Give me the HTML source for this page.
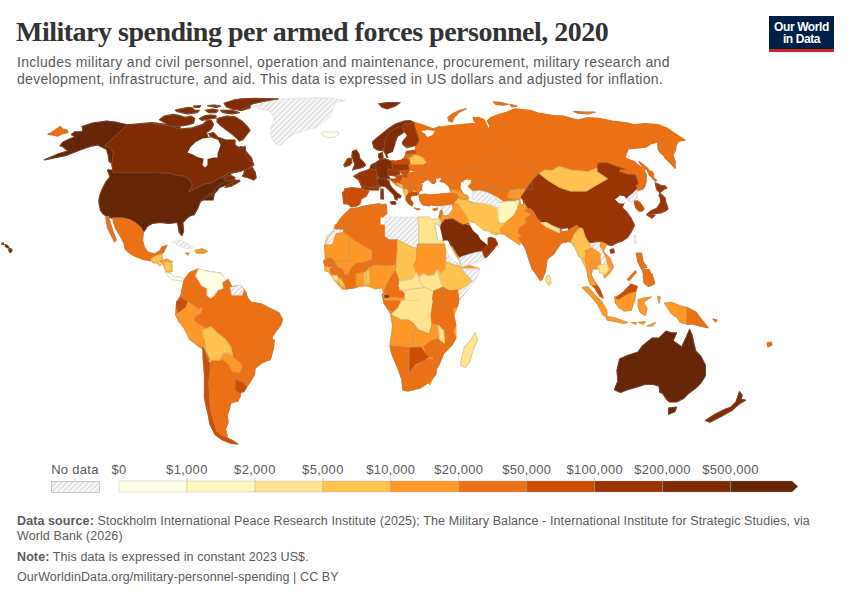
<!DOCTYPE html>
<html><head><meta charset="utf-8">
<style>
html,body{margin:0;padding:0;background:#fff;width:850px;height:600px;overflow:hidden}
body{position:relative;font-family:"Liberation Sans",sans-serif}
.t{position:absolute;white-space:nowrap}
#title{left:16px;top:16.5px;font-family:"Liberation Serif",serif;font-weight:bold;font-size:28px;line-height:30px;color:#333;letter-spacing:-0.5px}
#sub{left:17px;top:53.5px;font-size:14px;line-height:17px;color:#5b5b5b;letter-spacing:0.31px}
#logo{position:absolute;left:769px;top:16px;width:65px;height:36px;background:#002147}
#logo .bar{position:absolute;left:0;bottom:0;width:65px;height:3px;background:#ce261e}
#logo .txt{position:absolute;left:0;top:4.5px;width:65px;text-align:center;color:#fff;font-size:12px;line-height:12.3px;font-weight:bold;letter-spacing:-0.4px}
#foot{left:17px;top:514.2px;font-size:12.5px;line-height:15.3px;color:#5b5b5b;letter-spacing:0.1px}
#foot b{font-weight:bold}
svg{position:absolute;left:0;top:0}
.bd{fill:none;stroke:#8f8f8f;stroke-opacity:0.7;stroke-width:0.45;stroke-linejoin:round}
.bdn{fill:none;stroke:#d0d0d0;stroke-width:0.5;stroke-linejoin:round}
</style></head><body>
<div class="t" id="title">Military spending per armed forces personnel, 2020</div>
<div class="t" id="sub">Includes military and civil personnel, operation and maintenance, procurement, military research and<br>development, infrastructure, and aid. This data is expressed in US dollars and adjusted for inflation.</div>
<div id="logo"><div class="txt">Our World<br>in Data</div><div class="bar"></div></div>
<svg width="850" height="600" viewBox="0 0 850 600">
<defs><pattern id="hatch" width="3.8" height="3.8" patternUnits="userSpaceOnUse" patternTransform="rotate(45)"><rect width="3.8" height="3.8" fill="#fafafa"/><line x1="0.9" y1="0" x2="0.9" y2="3.8" stroke="#dedede" stroke-width="1.6"/></pattern></defs>
<g><path d="M47.9,134.4 54.0,130.9 60.1,126.5 62.8,129.1 67.1,130.0 68.0,132.6 62.8,133.5 57.5,136.1 54.0,135.2Z" fill="#ec7014" stroke="#ec7014" stroke-width="1.2" stroke-linejoin="round"/>
<path d="M47.9,134.4 54.0,130.9 60.1,126.5 62.8,129.1 67.1,130.0 68.0,132.6 62.8,133.5 57.5,136.1 54.0,135.2 47.9,134.4" class="bd"/>
<path d="M82.0,126.5 92.5,123.0 106.5,121.2 115.2,122.1 127.5,124.8 104.8,145.8 110.0,147.5 113.5,152.8 112.6,158.0 111.8,163.2 109.1,161.5 108.2,154.5 106.5,149.2 97.8,144.9 92.5,145.8 87.2,147.5 82.0,149.2 75.0,151.9 66.2,155.4 44.4,159.8 59.2,153.6 68.0,151.0 62.8,146.6 60.1,145.8 62.8,142.2 69.8,138.8 75.0,137.0 71.5,134.4 75.0,131.8 82.0,131.8 82.9,129.1Z" fill="#662506" stroke="#662506" stroke-width="1.2" stroke-linejoin="round"/>
<path d="M82.0,126.5 92.5,123.0 106.5,121.2 115.2,122.1 127.5,124.8 104.8,145.8 110.0,147.5 113.5,152.8 112.6,158.0 111.8,163.2 109.1,161.5 108.2,154.5 106.5,149.2 97.8,144.9 92.5,145.8 87.2,147.5 82.0,149.2 75.0,151.9 66.2,155.4 44.4,159.8 59.2,153.6 68.0,151.0 62.8,146.6 60.1,145.8 62.8,142.2 69.8,138.8 75.0,137.0 71.5,134.4 75.0,131.8 82.0,131.8 82.9,129.1 82.0,126.5" class="bd"/>
<path d="M127.5,124.8 138.0,123.9 152.0,122.7 162.5,123.9 173.0,126.5 180.0,126.5 180.0,173.2 115.2,173.2 113.5,172.0 111.8,165.0 112.6,158.0 113.5,152.8 110.0,147.5 104.8,145.8Z" fill="#7f2c05" stroke="#7f2c05" stroke-width="1.2" stroke-linejoin="round"/>
<path d="M127.5,124.8 138.0,123.9 152.0,122.7 162.5,123.9 173.0,126.5 180.0,126.5M180.0,173.2 115.2,173.2 113.5,172.0 111.8,165.0 112.6,158.0 113.5,152.8 110.0,147.5 104.8,145.8 127.5,124.8" class="bd"/>
<path d="M115.2,173.2 180.0,173.2 180.0,200.0 99.5,200.0 103.0,191.2 108.2,184.2 113.5,177.2Z" fill="#662506" stroke="#662506" stroke-width="1.2" stroke-linejoin="round"/>
<path d="M115.2,173.2 180.0,173.2M99.5,200.0 103.0,191.2 108.2,184.2 113.5,177.2 115.2,173.2" class="bd"/>
<path d="M150.0,123.0 167.5,125.6 179.4,129.1 192.3,127.9 202.8,124.4 206.5,120.9 211.2,120.4 213.5,124.4 211.2,129.1 206.5,132.6 207.8,137.0 220.0,137.9 232.2,143.1 236.6,147.5 241.9,146.6 245.4,151.0 251.5,158.0 253.2,164.1 247.1,166.8 241.0,171.1 232.2,172.9 227.0,177.2 223.5,179.0 216.5,183.4 209.5,187.8 202.5,186.9 195.5,187.8 190.2,191.2 188.5,186.0 181.5,175.5 171.0,172.9 150.0,173.2Z" fill="#7f2c05" stroke="#7f2c05" stroke-width="1.2" stroke-linejoin="round"/>
<path d="M150.0,123.0 167.5,125.6 179.4,129.1 192.3,127.9 202.8,124.4 206.5,120.9 211.2,120.4 213.5,124.4 211.2,129.1 206.5,132.6 207.8,137.0 220.0,137.9 232.2,143.1 236.6,147.5 241.9,146.6 245.4,151.0 251.5,158.0 253.2,164.1 247.1,166.8 241.0,171.1 232.2,172.9 227.0,177.2 223.5,179.0 216.5,183.4 209.5,187.8 202.5,186.9 195.5,187.8 190.2,191.2 188.5,186.0 181.5,175.5 171.0,172.9 150.0,173.2" class="bd"/>
<path d="M244.5,170.2 249.8,166.8 255.0,172.0 254.1,179.0 248.0,177.2 243.6,176.4Z" fill="#7f2c05" stroke="#7f2c05" stroke-width="1.2" stroke-linejoin="round"/>
<path d="M244.5,170.2 249.8,166.8 255.0,172.0 254.1,179.0 248.0,177.2 243.6,176.4 244.5,170.2" class="bd"/>
<path d="M225.2,182.5 232.2,179.0 238.4,180.8 234.0,184.2 227.0,186.0Z" fill="#7f2c05" stroke="#7f2c05" stroke-width="1.2" stroke-linejoin="round"/>
<path d="M225.2,182.5 232.2,179.0 238.4,180.8 234.0,184.2 227.0,186.0 225.2,182.5" class="bd"/>
<path d="M159.4,119.7 164.1,116.2 173.5,114.4 179.4,115.6 185.3,117.4 191.2,116.2 194.7,118.5 193.5,123.2 187.6,125.0 179.4,126.2 170.0,126.2 167.6,124.4 161.8,120.9Z" fill="#7f2c05" stroke="#7f2c05" stroke-width="1.2" stroke-linejoin="round"/>
<path d="M159.4,119.7 164.1,116.2 173.5,114.4 179.4,115.6 185.3,117.4 191.2,116.2 194.7,118.5 193.5,123.2 187.6,125.0 179.4,126.2 170.0,126.2 167.6,124.4 161.8,120.9 159.4,119.7" class="bd"/>
<path d="M175.3,110.3 181.8,108.5 188.8,107.4 192.4,107.9 194.7,110.3 199.4,110.3 197.1,112.6 187.6,113.8 181.8,112.6 177.1,111.5Z" fill="#7f2c05" stroke="#7f2c05" stroke-width="1.2" stroke-linejoin="round"/>
<path d="M175.3,110.3 181.8,108.5 188.8,107.4 192.4,107.9 194.7,110.3 199.4,110.3 197.1,112.6 187.6,113.8 181.8,112.6 177.1,111.5 175.3,110.3" class="bd"/>
<path d="M193.5,106.2 200.6,105.6 199.4,107.4 194.7,107.4Z" fill="#7f2c05" stroke="#7f2c05" stroke-width="1.2" stroke-linejoin="round"/>
<path d="M193.5,106.2 200.6,105.6 199.4,107.4 194.7,107.4 193.5,106.2" class="bd"/>
<path d="M199.4,118.5 205.3,115.6 211.2,115.0 215.9,115.6 215.9,117.9 208.8,119.1 201.8,120.3Z" fill="#7f2c05" stroke="#7f2c05" stroke-width="1.2" stroke-linejoin="round"/>
<path d="M199.4,118.5 205.3,115.6 211.2,115.0 215.9,115.6 215.9,117.9 208.8,119.1 201.8,120.3 199.4,118.5" class="bd"/>
<path d="M205.3,110.3 212.4,109.1 218.2,110.3 215.9,112.6 208.8,112.6Z" fill="#7f2c05" stroke="#7f2c05" stroke-width="1.2" stroke-linejoin="round"/>
<path d="M205.3,110.3 212.4,109.1 218.2,110.3 215.9,112.6 208.8,112.6 205.3,110.3" class="bd"/>
<path d="M207.6,105.6 214.7,105.0 220.6,106.2 215.9,107.4Z" fill="#7f2c05" stroke="#7f2c05" stroke-width="1.2" stroke-linejoin="round"/>
<path d="M207.6,105.6 214.7,105.0 220.6,106.2 215.9,107.4 207.6,105.6" class="bd"/>
<path d="M224.1,103.2 234.7,99.7 250.0,98.5 250.0,107.9 241.8,110.3 232.4,109.1 226.5,106.8Z" fill="#7f2c05" stroke="#7f2c05" stroke-width="1.2" stroke-linejoin="round"/>
<path d="M224.1,103.2 234.7,99.7 250.0,98.5M250.0,107.9 241.8,110.3 232.4,109.1 226.5,106.8 224.1,103.2" class="bd"/>
<path d="M220.6,110.3 232.4,110.3 239.4,112.6 232.4,113.8 222.9,112.6Z" fill="#7f2c05" stroke="#7f2c05" stroke-width="1.2" stroke-linejoin="round"/>
<path d="M220.6,110.3 232.4,110.3 239.4,112.6 232.4,113.8 222.9,112.6 220.6,110.3" class="bd"/>
<path d="M217.1,118.5 226.5,116.2 234.7,116.8 241.8,120.9 247.6,126.8 250.0,130.3 246.5,135.0 242.9,139.7 239.4,140.9 234.7,136.2 230.0,132.6 225.3,129.1 220.6,125.6 217.1,122.1Z" fill="#7f2c05" stroke="#7f2c05" stroke-width="1.2" stroke-linejoin="round"/>
<path d="M217.1,118.5 226.5,116.2 234.7,116.8 241.8,120.9 247.6,126.8 250.0,130.3 246.5,135.0 242.9,139.7 239.4,140.9 234.7,136.2 230.0,132.6 225.3,129.1 220.6,125.6 217.1,122.1 217.1,118.5" class="bd"/>
<path d="M208.8,133.8 213.5,132.6 218.2,137.4 213.5,139.7Z" fill="#7f2c05" stroke="#7f2c05" stroke-width="1.2" stroke-linejoin="round"/>
<path d="M208.8,133.8 213.5,132.6 218.2,137.4 213.5,139.7 208.8,133.8" class="bd"/>
<path d="M212.4,140.9 218.2,140.9 217.1,142.1Z" fill="#7f2c05" stroke="#7f2c05" stroke-width="1.2" stroke-linejoin="round"/>
<path d="M212.4,140.9 218.2,140.9 217.1,142.1 212.4,140.9" class="bd"/>
<path d="M150.0,173.2 171.0,172.9 181.5,175.5 188.5,186.0 190.2,191.2 195.5,187.8 202.5,186.9 209.5,187.8 216.5,183.4 223.5,179.0 227.0,178.1 225.2,182.5 220.0,186.0 214.8,191.2 213.0,200.0 150.0,200.0Z" fill="#662506" stroke="#662506" stroke-width="1.2" stroke-linejoin="round"/>
<path d="M150.0,173.2 171.0,172.9 181.5,175.5 188.5,186.0 190.2,191.2 195.5,187.8 202.5,186.9 209.5,187.8 216.5,183.4 223.5,179.0 227.0,178.1 225.2,182.5 220.0,186.0 214.8,191.2 213.0,200.0" class="bd"/>
<path d="M112.8,170.0 112.8,172.6 170.5,172.6 184.5,175.2 190.6,180.5 189.8,191.9 195.0,189.2 203.8,186.6 212.5,184.0 216.0,180.5 221.2,177.0 228.2,173.5 230.0,172.6 230.0,180.5 226.5,184.9 219.5,187.5 215.1,192.8 205.5,198.0 200.2,201.5 197.6,207.6 195.0,212.9 188.0,217.2 182.8,222.5 183.6,231.2 181.9,235.6 179.2,232.1 177.5,222.5 168.8,223.4 160.0,222.5 152.1,223.4 147.8,226.0 143.4,232.1 140.8,227.8 134.6,222.5 130.2,219.9 122.4,218.1 114.5,219.0 106.6,216.4 103.1,213.8 100.5,210.2 98.8,201.5 99.6,196.2 102.2,189.2 105.8,182.2 110.1,177.0 107.5,170.0Z" fill="#662506" stroke="#662506" stroke-width="1.2" stroke-linejoin="round"/>
<path d="M112.8,170.0 112.8,172.6 170.5,172.6 184.5,175.2 190.6,180.5 189.8,191.9 195.0,189.2 203.8,186.6 212.5,184.0 216.0,180.5 221.2,177.0 228.2,173.5 230.0,172.6M230.0,180.5 226.5,184.9 219.5,187.5 215.1,192.8 205.5,198.0 200.2,201.5 197.6,207.6 195.0,212.9 188.0,217.2 182.8,222.5 183.6,231.2 181.9,235.6 179.2,232.1 177.5,222.5 168.8,223.4 160.0,222.5 152.1,223.4 147.8,226.0 143.4,232.1 140.8,227.8 134.6,222.5 130.2,219.9 122.4,218.1 114.5,219.0 106.6,216.4 103.1,213.8 100.5,210.2 98.8,201.5 99.6,196.2 102.2,189.2 105.8,182.2 110.1,177.0 107.5,170.0" class="bd"/>
<path d="M112.8,218.1 122.4,218.1 130.2,219.9 134.6,222.5 140.8,227.8 143.4,232.1 142.5,240.0 144.2,247.0 147.8,252.2 154.8,254.0 160.0,250.5 161.8,247.0 167.0,245.2 163.5,252.2 160.0,255.8 154.8,257.5 151.2,261.0 142.5,259.2 133.8,255.8 128.5,252.2 125.0,248.8 124.1,243.5 121.5,238.2 116.2,229.5 113.6,222.5Z" fill="#ec7014" stroke="#ec7014" stroke-width="1.2" stroke-linejoin="round"/>
<path d="M112.8,218.1 122.4,218.1 130.2,219.9 134.6,222.5 140.8,227.8 143.4,232.1 142.5,240.0 144.2,247.0 147.8,252.2 154.8,254.0 160.0,250.5 161.8,247.0 167.0,245.2 163.5,252.2 160.0,255.8 154.8,257.5 151.2,261.0 142.5,259.2 133.8,255.8 128.5,252.2 125.0,248.8 124.1,243.5 121.5,238.2 116.2,229.5 113.6,222.5 112.8,218.1" class="bd"/>
<path d="M105.8,217.2 108.4,216.4 110.1,222.5 112.8,231.2 116.2,240.0 114.5,241.8 111.0,234.8 107.5,227.8 106.6,222.5Z" fill="#ec7014" stroke="#ec7014" stroke-width="1.2" stroke-linejoin="round"/>
<path d="M105.8,217.2 108.4,216.4 110.1,222.5 112.8,231.2 116.2,240.0 114.5,241.8 111.0,234.8 107.5,227.8 106.6,222.5 105.8,217.2" class="bd"/>
<path d="M151.2,259.2 156.5,255.8 161.8,254.0 162.6,259.2 158.2,262.8 153.0,262.8Z" fill="#fec44f" stroke="#fec44f" stroke-width="1.2" stroke-linejoin="round"/>
<path d="M151.2,259.2 156.5,255.8 161.8,254.0 162.6,259.2 158.2,262.8 153.0,262.8 151.2,259.2" class="bd"/>
<path d="M160.0,261.0 167.0,259.2 172.2,261.9 168.8,265.4 163.5,265.4Z" fill="#fe9929" stroke="#fe9929" stroke-width="1.2" stroke-linejoin="round"/>
<path d="M160.0,261.0 167.0,259.2 172.2,261.9 168.8,265.4 163.5,265.4 160.0,261.0" class="bd"/>
<path d="M156.5,262.8 160.9,264.5 160.0,266.2Z" fill="#fec44f" stroke="#fec44f" stroke-width="1.2" stroke-linejoin="round"/>
<path d="M156.5,262.8 160.9,264.5 160.0,266.2 156.5,262.8" class="bd"/>
<path d="M163.5,265.4 171.4,262.8 172.2,271.5 167.0,273.2 165.2,269.8Z" fill="#fec44f" stroke="#fec44f" stroke-width="1.2" stroke-linejoin="round"/>
<path d="M163.5,265.4 171.4,262.8 172.2,271.5 167.0,273.2 165.2,269.8 163.5,265.4" class="bd"/>
<path d="M172.2,241.8 181.0,240.0 188.0,243.5 193.2,247.9 186.2,248.8 177.5,245.2Z" fill="url(#hatch)"/>
<path d="M172.2,241.8 181.0,240.0 188.0,243.5 193.2,247.9 186.2,248.8 177.5,245.2 172.2,241.8" class="bdn"/>
<path d="M195.0,250.5 202.0,248.8 207.2,251.4 203.8,253.1 196.8,253.1Z" fill="#fe9929" stroke="#fe9929" stroke-width="1.2" stroke-linejoin="round"/>
<path d="M195.0,250.5 202.0,248.8 207.2,251.4 203.8,253.1 196.8,253.1 195.0,250.5" class="bd"/>
<path d="M185.4,253.1 188.9,253.1 188.0,254.9Z" fill="#fe9929" stroke="#fe9929" stroke-width="1.2" stroke-linejoin="round"/>
<path d="M185.4,253.1 188.9,253.1 188.0,254.9 185.4,253.1" class="bd"/>
<path d="M378.8,103.8 387.5,102.5 400.0,102.5 395.0,106.2 387.5,108.8 382.5,107.5Z" fill="#7f2c05" stroke="#7f2c05" stroke-width="1.2" stroke-linejoin="round"/>
<path d="M378.8,103.8 387.5,102.5 400.0,102.5 395.0,106.2 387.5,108.8 382.5,107.5 378.8,103.8" class="bd"/>
<path d="M184.5,279.5 189.8,272.5 198.5,269.0 200.2,272.5 205.5,270.8 216.0,272.5 221.2,273.4 223.0,276.0 228.2,283.0 231.8,286.5 240.5,285.6 245.8,291.8 247.5,297.9 251.0,302.2 261.5,304.0 268.5,307.5 279.0,312.8 282.5,319.8 280.8,325.0 275.5,332.0 272.0,337.2 273.8,346.0 270.2,360.0 205.5,360.0 203.8,349.5 198.5,346.0 189.8,339.0 184.5,328.5 179.2,321.5 175.8,314.5 176.6,302.2 181.0,295.2 182.8,286.5Z" fill="#ec7014" stroke="#ec7014" stroke-width="1.2" stroke-linejoin="round"/>
<path d="M184.5,279.5 189.8,272.5 198.5,269.0 200.2,272.5 205.5,270.8 216.0,272.5 221.2,273.4 223.0,276.0 228.2,283.0 231.8,286.5 240.5,285.6 245.8,291.8 247.5,297.9 251.0,302.2 261.5,304.0 268.5,307.5 279.0,312.8 282.5,319.8 280.8,325.0 275.5,332.0 272.0,337.2 273.8,346.0 270.2,360.0M205.5,360.0 203.8,349.5 198.5,346.0 189.8,339.0 184.5,328.5 179.2,321.5 175.8,314.5 176.6,302.2 181.0,295.2 182.8,286.5 184.5,279.5" class="bd"/>
<path d="M165.2,272.5 170.5,273.4 174.0,276.9 179.2,276.9 184.5,278.6 182.8,281.2 177.5,280.4 172.2,279.5 167.0,275.1Z" fill="#ffffe5" stroke="#ffffe5" stroke-width="1.2" stroke-linejoin="round"/>
<path d="M165.2,272.5 170.5,273.4 174.0,276.9 179.2,276.9 184.5,278.6 182.8,281.2 177.5,280.4 172.2,279.5 167.0,275.1 165.2,272.5" class="bd"/>
<path d="M163.5,262.0 170.5,262.0 172.2,265.5 170.5,271.6 166.1,271.6Z" fill="#fec44f" stroke="#fec44f" stroke-width="1.2" stroke-linejoin="round"/>
<path d="M163.5,262.0 170.5,262.0 172.2,265.5 170.5,271.6 166.1,271.6 163.5,262.0" class="bd"/>
<path d="M184.5,279.5 189.8,272.5 198.5,269.0 195.9,276.0 202.0,285.6 207.2,288.2 206.4,293.5 202.0,297.0 201.1,307.5 198.5,309.2 193.2,305.8 188.0,302.2 181.0,297.0 182.8,286.5Z" fill="#ec7014" stroke="#ec7014" stroke-width="1.2" stroke-linejoin="round"/>
<path d="M184.5,279.5 189.8,272.5 198.5,269.0 195.9,276.0 202.0,285.6 207.2,288.2 206.4,293.5 202.0,297.0 201.1,307.5 198.5,309.2 193.2,305.8 188.0,302.2 181.0,297.0 182.8,286.5 184.5,279.5" class="bd"/>
<path d="M195.9,276.0 198.5,269.0 205.5,270.8 216.0,272.5 221.2,273.4 223.0,276.0 227.4,281.2 223.0,288.2 217.8,290.0 214.2,295.2 210.8,297.9 207.2,295.2 207.2,288.2 202.0,285.6Z" fill="#ffffe5" stroke="#ffffe5" stroke-width="1.2" stroke-linejoin="round"/>
<path d="M195.9,276.0 198.5,269.0 205.5,270.8 216.0,272.5 221.2,273.4 223.0,276.0 227.4,281.2 223.0,288.2 217.8,290.0 214.2,295.2 210.8,297.9 207.2,295.2 207.2,288.2 202.0,285.6 195.9,276.0" class="bd"/>
<path d="M223.0,283.0 228.2,279.5 231.8,286.5 230.0,295.2 226.5,297.0 224.8,291.8Z" fill="#ec7014" stroke="#ec7014" stroke-width="1.2" stroke-linejoin="round"/>
<path d="M223.0,283.0 228.2,279.5 231.8,286.5 230.0,295.2 226.5,297.0 224.8,291.8 223.0,283.0" class="bd"/>
<path d="M230.0,287.4 240.5,284.8 244.0,290.0 242.2,295.2 231.8,295.2Z" fill="url(#hatch)"/>
<path d="M230.0,287.4 240.5,284.8 244.0,290.0 242.2,295.2 231.8,295.2 230.0,287.4" class="bdn"/>
<path d="M176.6,302.2 181.0,297.9 188.0,302.2 186.2,307.5 181.0,311.0 179.2,312.8 176.6,307.5Z" fill="#cc4c02" stroke="#cc4c02" stroke-width="1.2" stroke-linejoin="round"/>
<path d="M176.6,302.2 181.0,297.9 188.0,302.2 186.2,307.5 181.0,311.0 179.2,312.8 176.6,307.5 176.6,302.2" class="bd"/>
<path d="M179.2,312.8 186.2,307.5 188.0,302.2 193.2,305.8 198.5,309.2 202.0,307.5 201.1,312.8 195.0,316.2 194.1,321.5 200.2,325.0 205.5,328.5 202.9,335.5 205.5,344.2 203.8,349.5 198.5,346.0 189.8,339.0 184.5,328.5 179.2,321.5 175.8,314.5Z" fill="#fe9929" stroke="#fe9929" stroke-width="1.2" stroke-linejoin="round"/>
<path d="M179.2,312.8 186.2,307.5 188.0,302.2 193.2,305.8 198.5,309.2 202.0,307.5 201.1,312.8 195.0,316.2 194.1,321.5 200.2,325.0 205.5,328.5 202.9,335.5 205.5,344.2 203.8,349.5 198.5,346.0 189.8,339.0 184.5,328.5 179.2,321.5 175.8,314.5 179.2,312.8" class="bd"/>
<path d="M203.6,347.0 206.2,357.5 210.6,364.5 208.9,383.8 209.8,399.5 210.6,410.0 214.1,422.2 216.8,431.0 223.8,436.2 232.5,440.6 237.8,444.1 230.8,443.2 222.0,439.8 215.0,434.5 209.8,424.0 208.0,413.5 206.2,406.5 204.5,397.8 204.5,375.0 203.1,357.5 202.8,347.0Z" fill="#cc4c02" stroke="#cc4c02" stroke-width="1.2" stroke-linejoin="round"/>
<path d="M203.6,347.0 206.2,357.5 210.6,364.5 208.9,383.8 209.8,399.5 210.6,410.0 214.1,422.2 216.8,431.0 223.8,436.2 232.5,440.6 237.8,444.1 230.8,443.2 222.0,439.8 215.0,434.5 209.8,424.0 208.0,413.5 206.2,406.5 204.5,397.8 204.5,375.0 203.1,357.5 202.8,347.0 203.6,347.0" class="bd"/>
<path d="M210.6,364.5 211.5,359.2 221.1,359.2 222.0,354.0 227.2,351.4 232.5,355.8 241.2,365.4 241.2,370.6 236.0,375.0 236.0,380.2 241.2,387.2 240.4,396.0 237.8,401.2 230.8,403.0 229.0,410.0 227.2,415.2 228.1,422.2 225.5,429.2 227.2,436.2 223.8,436.2 216.8,431.0 214.1,422.2 210.6,410.0 209.8,399.5 208.9,383.8Z" fill="#ec7014" stroke="#ec7014" stroke-width="1.2" stroke-linejoin="round"/>
<path d="M210.6,364.5 211.5,359.2 221.1,359.2 222.0,354.0 227.2,351.4 232.5,355.8 241.2,365.4 241.2,370.6 236.0,375.0 236.0,380.2 241.2,387.2 240.4,396.0 237.8,401.2 230.8,403.0 229.0,410.0 227.2,415.2 228.1,422.2 225.5,429.2 227.2,436.2 223.8,436.2 216.8,431.0 214.1,422.2 210.6,410.0 209.8,399.5 208.9,383.8 210.6,364.5" class="bd"/>
<path d="M225.5,340.0 274.5,340.0 272.8,350.5 270.1,359.2 262.2,362.8 255.2,368.0 254.4,375.0 250.0,382.0 246.5,387.2 243.0,382.9 236.0,380.2 236.0,375.0 241.2,370.6 242.1,366.2 239.5,362.8 232.5,355.8 230.8,347.0Z" fill="#ec7014" stroke="#ec7014" stroke-width="1.2" stroke-linejoin="round"/>
<path d="M274.5,340.0 272.8,350.5 270.1,359.2 262.2,362.8 255.2,368.0 254.4,375.0 250.0,382.0 246.5,387.2 243.0,382.9 236.0,380.2 236.0,375.0 241.2,370.6 242.1,366.2 239.5,362.8 232.5,355.8 230.8,347.0 225.5,340.0" class="bd"/>
<path d="M236.0,380.2 243.0,382.9 246.5,387.2 243.9,391.6 239.5,392.5 236.0,389.9Z" fill="#cc4c02" stroke="#cc4c02" stroke-width="1.2" stroke-linejoin="round"/>
<path d="M236.0,380.2 243.0,382.9 246.5,387.2 243.9,391.6 239.5,392.5 236.0,389.9 236.0,380.2" class="bd"/>
<path d="M222.0,354.0 227.2,351.4 232.5,356.6 239.5,362.8 242.1,366.2 239.5,372.4 232.5,371.5 229.0,364.5 222.9,359.2Z" fill="#fe9929" stroke="#fe9929" stroke-width="1.2" stroke-linejoin="round"/>
<path d="M222.0,354.0 227.2,351.4 232.5,356.6 239.5,362.8 242.1,366.2 239.5,372.4 232.5,371.5 229.0,364.5 222.9,359.2 222.0,354.0" class="bd"/>
<path d="M204.5,340.0 225.5,340.0 230.8,347.0 232.5,355.8 227.2,351.4 222.0,354.0 221.1,359.2 211.5,359.2 208.0,354.0 204.5,347.0Z" fill="#fec44f" stroke="#fec44f" stroke-width="1.2" stroke-linejoin="round"/>
<path d="M225.5,340.0 230.8,347.0 232.5,355.8 227.2,351.4 222.0,354.0 221.1,359.2 211.5,359.2 208.0,354.0 204.5,347.0 204.5,340.0" class="bd"/>
<path d="M202.9,330.2 210.8,326.8 216.0,332.0 224.8,339.0 230.0,346.0 231.8,353.0 223.0,353.0 219.5,360.0 210.8,360.0 205.5,349.5 205.5,344.2 202.9,335.5Z" fill="#fec44f" stroke="#fec44f" stroke-width="1.2" stroke-linejoin="round"/>
<path d="M202.9,330.2 210.8,326.8 216.0,332.0 224.8,339.0 230.0,346.0 231.8,353.0 223.0,353.0 219.5,360.0M210.8,360.0 205.5,349.5 205.5,344.2 202.9,335.5 202.9,330.2" class="bd"/>
<path d="M190.5,340.0 204.5,340.0 203.6,347.0 197.5,343.5Z" fill="#fe9929" stroke="#fe9929" stroke-width="1.2" stroke-linejoin="round"/>
<path d="M204.5,340.0 203.6,347.0 197.5,343.5 190.5,340.0" class="bd"/>
<path d="M341.2,217.8 346.5,212.5 353.5,209.0 360.5,207.2 367.5,205.5 379.8,203.8 385.0,205.5 386.8,212.5 385.0,216.0 388.5,217.8 397.2,219.5 406.0,216.0 413.0,219.5 418.2,218.6 427.0,218.6 437.5,219.5 440.1,217.8 441.0,225.6 446.2,233.5 451.5,242.2 457.6,251.0 462.0,266.8 467.2,265.0 479.5,268.5 476.0,277.2 469.0,287.8 462.0,296.5 458.5,300.0 457.5,306.2 454.0,315.0 455.8,325.5 455.8,337.8 452.2,344.8 443.5,353.5 440.0,362.2 436.5,369.2 434.8,374.5 429.5,385.0 429.0,382.0 420.0,388.0 408.0,391.0 403.0,390.0 402.0,380.0 397.0,366.0 392.0,354.0 390.0,344.0 391.0,337.8 392.8,325.5 391.0,315.0 384.0,302.8 384.0,295.8 382.2,287.0 388.5,300.0 386.8,296.5 385.0,289.5 383.2,286.0 376.2,284.2 367.5,286.0 358.8,286.0 350.0,287.8 343.0,289.5 337.8,284.2 332.5,277.2 329.0,272.0 325.5,266.8 323.8,261.5 327.2,258.0 326.4,251.0 324.6,245.8 327.2,237.0 332.5,231.8 336.0,226.5Z" fill="#fe9929" stroke="#fe9929" stroke-width="1.2" stroke-linejoin="round"/>
<path d="M334.2,228.2 341.2,217.8 346.5,212.5 353.5,209.0 360.5,207.2 358.8,214.2 357.0,218.6 350.0,223.0 343.9,226.5 337.8,229.1Z" fill="#ec7014" stroke="#ec7014" stroke-width="1.2" stroke-linejoin="round"/>
<path d="M334.2,228.2 341.2,217.8 346.5,212.5 353.5,209.0 360.5,207.2 358.8,214.2 357.0,218.6 350.0,223.0 343.9,226.5 337.8,229.1 334.2,228.2" class="bd"/>
<path d="M324.6,245.8 327.2,237.0 332.5,231.8 334.2,229.1 343.0,229.1 343.0,232.6 336.0,233.5 334.2,238.8 329.9,240.5 327.2,245.8Z" fill="url(#hatch)"/>
<path d="M324.6,245.8 327.2,237.0 332.5,231.8 334.2,229.1 343.0,229.1 343.0,232.6 336.0,233.5 334.2,238.8 329.9,240.5 327.2,245.8 324.6,245.8" class="bdn"/>
<path d="M343.9,226.5 350.0,223.0 357.0,218.6 358.8,214.2 360.5,207.2 367.5,205.5 379.8,203.8 383.2,209.0 385.0,214.2 385.0,221.2 386.8,230.0 388.5,240.5 378.0,247.5 371.0,251.0 362.2,245.8 350.0,237.0 350.0,232.6 343.0,232.6 343.0,229.1Z" fill="#ec7014" stroke="#ec7014" stroke-width="1.2" stroke-linejoin="round"/>
<path d="M343.9,226.5 350.0,223.0 357.0,218.6 358.8,214.2 360.5,207.2 367.5,205.5 379.8,203.8 383.2,209.0 385.0,214.2 385.0,221.2 386.8,230.0 388.5,240.5 378.0,247.5 371.0,251.0 362.2,245.8 350.0,237.0 350.0,232.6 343.0,232.6 343.0,229.1 343.9,226.5" class="bd"/>
<path d="M379.8,203.8 386.8,204.6 386.8,212.5 385.0,216.0Z" fill="#ec7014" stroke="#ec7014" stroke-width="1.2" stroke-linejoin="round"/>
<path d="M379.8,203.8 386.8,204.6 386.8,212.5 385.0,216.0 379.8,203.8" class="bd"/>
<path d="M385.0,216.0 388.5,217.8 397.2,219.5 406.0,216.0 418.2,218.6 419.1,247.5 413.0,245.8 397.2,240.5 388.5,240.5 386.8,230.0 385.0,221.2Z" fill="url(#hatch)"/>
<path d="M385.0,216.0 388.5,217.8 397.2,219.5 406.0,216.0 418.2,218.6 419.1,247.5 413.0,245.8 397.2,240.5 388.5,240.5 386.8,230.0 385.0,221.2 385.0,216.0" class="bdn"/>
<path d="M418.2,218.6 427.0,218.6 437.5,219.5 440.1,217.8 444.5,242.2 420.0,243.1 419.1,247.5Z" fill="#fee391" stroke="#fee391" stroke-width="1.2" stroke-linejoin="round"/>
<path d="M418.2,218.6 427.0,218.6 437.5,219.5 440.1,217.8 444.5,242.2 420.0,243.1 419.1,247.5 418.2,218.6" class="bd"/>
<path d="M327.2,245.8 329.9,240.5 334.2,238.8 336.0,233.5 343.0,232.6 350.0,232.6 350.0,237.0 349.1,259.8 337.8,260.6 332.5,258.0 327.2,258.0 326.4,251.0Z" fill="#fe9929" stroke="#fe9929" stroke-width="1.2" stroke-linejoin="round"/>
<path d="M327.2,245.8 329.9,240.5 334.2,238.8 336.0,233.5 343.0,232.6 350.0,232.6 350.0,237.0 349.1,259.8 337.8,260.6 332.5,258.0 327.2,258.0 326.4,251.0 327.2,245.8" class="bd"/>
<path d="M350.0,237.0 362.2,245.8 371.0,251.0 372.8,256.2 372.8,263.2 362.2,265.0 355.2,268.5 351.8,272.0 347.4,268.5 337.8,260.6 349.1,259.8Z" fill="#fe9929" stroke="#fe9929" stroke-width="1.2" stroke-linejoin="round"/>
<path d="M350.0,237.0 362.2,245.8 371.0,251.0 372.8,256.2 372.8,263.2 362.2,265.0 355.2,268.5 351.8,272.0 347.4,268.5 337.8,260.6 349.1,259.8 350.0,237.0" class="bd"/>
<path d="M371.0,251.0 378.0,247.5 388.5,240.5 397.2,244.0 397.2,252.8 395.5,265.0 385.0,266.8 374.5,266.8 372.8,263.2 372.8,256.2Z" fill="#ec7014" stroke="#ec7014" stroke-width="1.2" stroke-linejoin="round"/>
<path d="M371.0,251.0 378.0,247.5 388.5,240.5 397.2,244.0 397.2,252.8 395.5,265.0 385.0,266.8 374.5,266.8 372.8,263.2 372.8,256.2 371.0,251.0" class="bd"/>
<path d="M397.2,244.0 416.5,252.8 414.8,263.2 418.2,272.0 413.0,277.2 402.5,280.8 397.2,279.0 394.6,272.0 395.5,265.0 397.2,252.8Z" fill="#fec44f" stroke="#fec44f" stroke-width="1.2" stroke-linejoin="round"/>
<path d="M397.2,244.0 416.5,252.8 414.8,263.2 418.2,272.0 413.0,277.2 402.5,280.8 397.2,279.0 394.6,272.0 395.5,265.0 397.2,252.8 397.2,244.0" class="bd"/>
<path d="M323.8,261.5 327.2,258.0 332.5,258.0 336.0,263.2 334.2,266.8 325.5,266.8Z" fill="#ec7014" stroke="#ec7014" stroke-width="1.2" stroke-linejoin="round"/>
<path d="M323.8,261.5 327.2,258.0 332.5,258.0 336.0,263.2 334.2,266.8 325.5,266.8 323.8,261.5" class="bd"/>
<path d="M329.0,268.5 337.8,268.5 343.0,272.0 344.8,279.0 339.5,279.0 334.2,277.2 330.8,273.8Z" fill="#ec7014" stroke="#ec7014" stroke-width="1.2" stroke-linejoin="round"/>
<path d="M329.0,268.5 337.8,268.5 343.0,272.0 344.8,279.0 339.5,279.0 334.2,277.2 330.8,273.8 329.0,268.5" class="bd"/>
<path d="M332.5,275.5 337.8,277.2 337.8,282.5 334.2,280.8Z" fill="#fee391" stroke="#fee391" stroke-width="1.2" stroke-linejoin="round"/>
<path d="M332.5,275.5 337.8,277.2 337.8,282.5 334.2,280.8 332.5,275.5" class="bd"/>
<path d="M336.9,279.0 343.0,280.8 344.8,286.0 339.5,284.2Z" fill="#fec44f" stroke="#fec44f" stroke-width="1.2" stroke-linejoin="round"/>
<path d="M336.9,279.0 343.0,280.8 344.8,286.0 339.5,284.2 336.9,279.0" class="bd"/>
<path d="M343.0,273.8 351.8,272.9 355.2,275.5 355.2,286.0 350.0,287.8 343.9,287.8 343.0,280.8Z" fill="#ec7014" stroke="#ec7014" stroke-width="1.2" stroke-linejoin="round"/>
<path d="M343.0,273.8 351.8,272.9 355.2,275.5 355.2,286.0 350.0,287.8 343.9,287.8 343.0,280.8 343.0,273.8" class="bd"/>
<path d="M347.4,268.5 355.2,268.5 362.2,265.0 372.8,263.2 371.0,270.2 365.8,272.0 355.2,273.8 351.8,272.0Z" fill="#ec7014" stroke="#ec7014" stroke-width="1.2" stroke-linejoin="round"/>
<path d="M347.4,268.5 355.2,268.5 362.2,265.0 372.8,263.2 371.0,270.2 365.8,272.0 355.2,273.8 351.8,272.0 347.4,268.5" class="bd"/>
<path d="M355.2,273.8 362.2,272.0 364.0,284.2 358.8,286.0 355.2,286.0Z" fill="#fe9929" stroke="#fe9929" stroke-width="1.2" stroke-linejoin="round"/>
<path d="M355.2,273.8 362.2,272.0 364.0,284.2 358.8,286.0 355.2,286.0 355.2,273.8" class="bd"/>
<path d="M363.1,272.0 371.0,270.2 370.1,284.2 364.9,284.2Z" fill="#fec44f" stroke="#fec44f" stroke-width="1.2" stroke-linejoin="round"/>
<path d="M363.1,272.0 371.0,270.2 370.1,284.2 364.9,284.2 363.1,272.0" class="bd"/>
<path d="M371.0,270.2 374.5,266.8 385.0,266.8 395.5,265.0 394.6,272.0 397.2,275.5 392.0,282.5 388.5,289.5 383.2,286.0 376.2,284.2 370.1,284.2Z" fill="#fe9929" stroke="#fe9929" stroke-width="1.2" stroke-linejoin="round"/>
<path d="M371.0,270.2 374.5,266.8 385.0,266.8 395.5,265.0 394.6,272.0 397.2,275.5 392.0,282.5 388.5,289.5 383.2,286.0 376.2,284.2 370.1,284.2 371.0,270.2" class="bd"/>
<path d="M394.6,272.0 397.2,279.0 400.8,287.8 402.5,293.0 397.2,296.5 388.5,296.5 386.8,289.5 392.0,282.5 397.2,275.5Z" fill="#ec7014" stroke="#ec7014" stroke-width="1.2" stroke-linejoin="round"/>
<path d="M394.6,272.0 397.2,279.0 400.8,287.8 402.5,293.0 397.2,296.5 388.5,296.5 386.8,289.5 392.0,282.5 397.2,275.5 394.6,272.0" class="bd"/>
<path d="M441.0,225.6 446.2,217.8 451.5,218.6 460.2,223.0 469.0,223.9 472.5,229.1 477.8,236.1 483.0,241.4 487.4,244.0 486.5,249.2 481.2,251.0 472.5,252.8 462.0,256.2 457.6,251.0 451.5,242.2 446.2,233.5Z" fill="#7f2c05" stroke="#7f2c05" stroke-width="1.2" stroke-linejoin="round"/>
<path d="M441.0,225.6 446.2,217.8 451.5,218.6 460.2,223.0 469.0,223.9 472.5,229.1 477.8,236.1 483.0,241.4 487.4,244.0 486.5,249.2 481.2,251.0 472.5,252.8 462.0,256.2 457.6,251.0 451.5,242.2 446.2,233.5 441.0,225.6" class="bd"/>
<path d="M487.4,237.0 491.8,238.8 497.0,243.1 493.5,249.2 486.5,257.1 483.0,252.8 486.5,249.2 487.4,244.0Z" fill="#993404" stroke="#993404" stroke-width="1.2" stroke-linejoin="round"/>
<path d="M487.4,237.0 491.8,238.8 497.0,243.1 493.5,249.2 486.5,257.1 483.0,252.8 486.5,249.2 487.4,244.0 487.4,237.0" class="bd"/>
<path d="M479.5,235.2 487.4,236.1 487.4,240.5 483.0,241.4Z" fill="#cc4c02" stroke="#cc4c02" stroke-width="1.2" stroke-linejoin="round"/>
<path d="M479.5,235.2 487.4,236.1 487.4,240.5 483.0,241.4 479.5,235.2" class="bd"/>
<path d="M457.6,252.8 462.0,256.2 472.5,252.8 481.2,251.0 486.5,257.1 477.8,261.5 467.2,265.0 462.0,266.8 459.4,261.5Z" fill="url(#hatch)"/>
<path d="M457.6,252.8 462.0,256.2 472.5,252.8 481.2,251.0 486.5,257.1 477.8,261.5 467.2,265.0 462.0,266.8 459.4,261.5 457.6,252.8" class="bdn"/>
<path d="M449.8,205.5 462.0,203.8 467.2,212.5 469.0,223.0 460.2,223.0 451.5,218.6 446.2,214.2Z" fill="#fe9929" stroke="#fe9929" stroke-width="1.2" stroke-linejoin="round"/>
<path d="M449.8,205.5 462.0,203.8 467.2,212.5 469.0,223.0 460.2,223.0 451.5,218.6 446.2,214.2 449.8,205.5" class="bd"/>
<path d="M441.0,205.5 449.8,205.5 446.2,214.2 441.0,214.2Z" fill="#ec7014" stroke="#ec7014" stroke-width="1.2" stroke-linejoin="round"/>
<path d="M441.0,205.5 449.8,205.5 446.2,214.2 441.0,214.2 441.0,205.5" class="bd"/>
<path d="M439.2,214.2 446.2,214.2 451.5,218.6 446.2,217.8 441.0,225.6 439.2,221.2Z" fill="#fe9929" stroke="#fe9929" stroke-width="1.2" stroke-linejoin="round"/>
<path d="M439.2,214.2 446.2,214.2 451.5,218.6 446.2,217.8 441.0,225.6 439.2,221.2 439.2,214.2" class="bd"/>
<path d="M457.6,198.5 470.8,200.2 483.0,202.9 493.5,205.5 497.0,212.5 500.5,226.5 502.2,233.5 493.5,233.5 490.0,230.0 483.0,230.0 477.8,224.8 470.8,223.0 469.0,223.0 467.2,212.5 462.0,203.8Z" fill="#fec44f" stroke="#fec44f" stroke-width="1.2" stroke-linejoin="round"/>
<path d="M457.6,198.5 470.8,200.2 483.0,202.9 493.5,205.5 497.0,212.5 500.5,226.5 502.2,233.5 493.5,233.5 490.0,230.0 483.0,230.0 477.8,224.8 470.8,223.0 469.0,223.0 467.2,212.5 462.0,203.8 457.6,198.5" class="bd"/>
<path d="M495.2,205.5 509.2,202.0 518.0,203.8 516.2,212.5 509.2,223.0 500.5,223.9 497.0,212.5Z" fill="#fff7bc" stroke="#fff7bc" stroke-width="1.2" stroke-linejoin="round"/>
<path d="M495.2,205.5 509.2,202.0 518.0,203.8 516.2,212.5 509.2,223.0 500.5,223.9 497.0,212.5 495.2,205.5" class="bd"/>
<path d="M518.0,203.8 528.5,205.5 526.8,214.2 521.5,221.2 518.0,230.0 521.5,237.0 512.8,235.2 502.2,233.5 500.5,226.5 500.5,223.9 509.2,223.0 516.2,212.5Z" fill="#fe9929" stroke="#fe9929" stroke-width="1.2" stroke-linejoin="round"/>
<path d="M518.0,203.8 528.5,205.5 526.8,214.2 521.5,221.2 518.0,230.0 521.5,237.0 512.8,235.2 502.2,233.5 500.5,226.5 500.5,223.9 509.2,223.0 516.2,212.5 518.0,203.8" class="bd"/>
<path d="M420.0,245.8 443.6,245.8 451.5,242.2 448.0,252.8 446.2,259.8 442.8,268.5 439.2,273.8 430.5,275.5 420.0,273.8Z" fill="#fe9929" stroke="#fe9929" stroke-width="1.2" stroke-linejoin="round"/>
<path d="M420.0,245.8 443.6,245.8 451.5,242.2 448.0,252.8 446.2,259.8 442.8,268.5 439.2,273.8 430.5,275.5 420.0,273.8" class="bd"/>
<path d="M448.0,252.8 455.0,256.2 459.4,261.5 451.5,263.2 446.2,259.8Z" fill="url(#hatch)"/>
<path d="M448.0,252.8 455.0,256.2 459.4,261.5 451.5,263.2 446.2,259.8 448.0,252.8" class="bdn"/>
<path d="M442.8,268.5 446.2,259.8 451.5,263.2 459.4,261.5 462.0,268.5 470.8,280.8 463.8,286.0 455.0,289.5 446.2,289.5 441.0,284.2 439.2,273.8Z" fill="#fec44f" stroke="#fec44f" stroke-width="1.2" stroke-linejoin="round"/>
<path d="M442.8,268.5 446.2,259.8 451.5,263.2 459.4,261.5 462.0,268.5 470.8,280.8 463.8,286.0 455.0,289.5 446.2,289.5 441.0,284.2 439.2,273.8 442.8,268.5" class="bd"/>
<path d="M459.4,268.5 479.5,268.5 476.0,277.2 469.0,287.8 462.0,296.5 458.5,300.0 455.0,289.5 463.8,286.0 470.8,280.8 462.0,268.5Z" fill="url(#hatch)"/>
<path d="M459.4,268.5 479.5,268.5 476.0,277.2 469.0,287.8 462.0,296.5 458.5,300.0 455.0,289.5 463.8,286.0 470.8,280.8 462.0,268.5 459.4,268.5" class="bdn"/>
<path d="M420.0,273.8 430.5,275.5 439.2,273.8 441.0,284.2 446.2,289.5 434.0,293.0 420.0,289.5Z" fill="#fee391" stroke="#fee391" stroke-width="1.2" stroke-linejoin="round"/>
<path d="M420.0,273.8 430.5,275.5 439.2,273.8 441.0,284.2 446.2,289.5 434.0,293.0 420.0,289.5" class="bd"/>
<path d="M382.2,294.0 392.8,294.0 396.2,302.8 392.8,311.5 387.5,308.0 384.0,302.8Z" fill="#ec7014" stroke="#ec7014" stroke-width="1.2" stroke-linejoin="round"/>
<path d="M382.2,294.0 392.8,294.0 396.2,302.8 392.8,311.5 387.5,308.0 384.0,302.8 382.2,294.0" class="bd"/>
<path d="M392.8,290.5 403.2,290.5 399.8,304.5 396.2,311.5 391.0,315.0 392.8,302.8Z" fill="#ec7014" stroke="#ec7014" stroke-width="1.2" stroke-linejoin="round"/>
<path d="M392.8,290.5 403.2,290.5 399.8,304.5 396.2,311.5 391.0,315.0 392.8,302.8 392.8,290.5" class="bd"/>
<path d="M396.2,280.0 440.0,280.0 441.8,285.2 433.0,287.0 419.0,287.0 405.0,283.5 396.2,288.8Z" fill="#fee391" stroke="#fee391" stroke-width="1.2" stroke-linejoin="round"/>
<path d="M440.0,280.0 441.8,285.2 433.0,287.0 419.0,287.0 405.0,283.5 396.2,288.8 396.2,280.0" class="bd"/>
<path d="M396.2,288.8 405.0,283.5 419.0,287.0 433.0,287.0 434.8,295.8 432.1,306.2 431.2,315.0 433.0,323.8 429.5,334.2 420.8,330.8 413.8,323.8 408.5,320.2 401.5,320.2 394.5,316.8 391.0,315.0 398.0,308.0 401.5,301.0Z" fill="#fee391" stroke="#fee391" stroke-width="1.2" stroke-linejoin="round"/>
<path d="M396.2,288.8 405.0,283.5 419.0,287.0 433.0,287.0 434.8,295.8 432.1,306.2 431.2,315.0 433.0,323.8 429.5,334.2 420.8,330.8 413.8,323.8 408.5,320.2 401.5,320.2 394.5,316.8 391.0,315.0 398.0,308.0 401.5,301.0 396.2,288.8" class="bd"/>
<path d="M434.8,290.5 443.5,290.5 441.8,302.8 433.0,304.5Z" fill="#ec7014" stroke="#ec7014" stroke-width="1.2" stroke-linejoin="round"/>
<path d="M434.8,290.5 443.5,290.5 441.8,302.8 433.0,304.5 434.8,290.5" class="bd"/>
<path d="M441.8,287.0 457.5,292.2 459.2,295.8 457.5,306.2 452.2,308.0 443.5,302.8Z" fill="#ec7014" stroke="#ec7014" stroke-width="1.2" stroke-linejoin="round"/>
<path d="M441.8,287.0 457.5,292.2 459.2,295.8 457.5,306.2 452.2,308.0 443.5,302.8 441.8,287.0" class="bd"/>
<path d="M433.0,304.5 441.8,302.8 452.2,308.0 455.8,325.5 452.2,330.8 443.5,330.8 438.2,325.5 432.1,323.8 431.2,315.0Z" fill="#ec7014" stroke="#ec7014" stroke-width="1.2" stroke-linejoin="round"/>
<path d="M433.0,304.5 441.8,302.8 452.2,308.0 455.8,325.5 452.2,330.8 443.5,330.8 438.2,325.5 432.1,323.8 431.2,315.0 433.0,304.5" class="bd"/>
<path d="M391.0,315.0 394.5,316.8 401.5,320.2 408.5,320.2 413.8,323.8 417.2,330.8 412.9,332.5 412.9,344.8 391.0,344.8 392.8,325.5Z" fill="#fe9929" stroke="#fe9929" stroke-width="1.2" stroke-linejoin="round"/>
<path d="M391.0,315.0 394.5,316.8 401.5,320.2 408.5,320.2 413.8,323.8 417.2,330.8 412.9,332.5 412.9,344.8 391.0,344.8 392.8,325.5 391.0,315.0" class="bd"/>
<path d="M412.9,332.5 417.2,330.8 420.8,330.8 429.5,334.2 432.1,323.8 438.2,325.5 440.0,334.2 436.5,339.5 431.2,341.2 424.2,346.5 412.9,344.8Z" fill="#fe9929" stroke="#fe9929" stroke-width="1.2" stroke-linejoin="round"/>
<path d="M412.9,332.5 417.2,330.8 420.8,330.8 429.5,334.2 432.1,323.8 438.2,325.5 440.0,334.2 436.5,339.5 431.2,341.2 424.2,346.5 412.9,344.8 412.9,332.5" class="bd"/>
<path d="M443.5,330.8 452.2,330.8 455.8,337.8 452.2,344.8 443.5,353.5 440.0,362.2 437.4,367.5 433.0,362.2 434.8,353.5 436.5,339.5 440.0,339.5 444.4,343.0Z" fill="#ec7014" stroke="#ec7014" stroke-width="1.2" stroke-linejoin="round"/>
<path d="M443.5,330.8 452.2,330.8 455.8,337.8 452.2,344.8 443.5,353.5 440.0,362.2 437.4,367.5 433.0,362.2 434.8,353.5 436.5,339.5 440.0,339.5 444.4,343.0 443.5,330.8" class="bd"/>
<path d="M438.2,325.5 443.5,330.8 444.4,343.0 440.0,339.5 439.1,332.5Z" fill="#fee391" stroke="#fee391" stroke-width="1.2" stroke-linejoin="round"/>
<path d="M438.2,325.5 443.5,330.8 444.4,343.0 440.0,339.5 439.1,332.5 438.2,325.5" class="bd"/>
<path d="M424.2,346.5 431.2,341.2 436.5,339.5 437.4,353.5 433.0,357.0 427.8,357.0Z" fill="#ec7014" stroke="#ec7014" stroke-width="1.2" stroke-linejoin="round"/>
<path d="M424.2,346.5 431.2,341.2 436.5,339.5 437.4,353.5 433.0,357.0 427.8,357.0 424.2,346.5" class="bd"/>
<path d="M390.0,346.0 412.0,348.0 408.0,360.0 408.0,372.0 408.0,376.0 401.0,376.0 397.0,366.0 392.0,354.0Z" fill="#ec7014" stroke="#ec7014" stroke-width="1.2" stroke-linejoin="round"/>
<path d="M390.0,346.0 412.0,348.0 408.0,360.0 408.0,372.0 408.0,376.0 401.0,376.0 397.0,366.0 392.0,354.0 390.0,346.0" class="bd"/>
<path d="M401.0,376.0 408.0,376.0 410.0,371.0 420.0,364.0 429.0,359.0 435.0,361.0 436.0,368.0 436.0,374.0 429.0,382.0 420.0,388.0 408.0,391.0 403.0,390.0 402.0,380.0Z" fill="#ec7014" stroke="#ec7014" stroke-width="1.2" stroke-linejoin="round"/>
<path d="M401.0,376.0 408.0,376.0 410.0,371.0 420.0,364.0 429.0,359.0 435.0,361.0 436.0,368.0 436.0,374.0 429.0,382.0 420.0,388.0 408.0,391.0 403.0,390.0 402.0,380.0 401.0,376.0" class="bd"/>
<path d="M410.2,348.2 420.8,347.4 427.8,357.0 424.2,360.5 415.5,364.0 409.4,371.0Z" fill="#cc4c02" stroke="#cc4c02" stroke-width="1.2" stroke-linejoin="round"/>
<path d="M410.2,348.2 420.8,347.4 427.8,357.0 424.2,360.5 415.5,364.0 409.4,371.0 410.2,348.2" class="bd"/>
<path d="M461.0,360.5 464.5,346.5 471.5,339.5 475.0,332.5 477.6,339.5 473.2,350.0 469.8,362.2 465.4,367.5 461.0,365.8Z" fill="#fee391" stroke="#fee391" stroke-width="1.2" stroke-linejoin="round"/>
<path d="M461.0,360.5 464.5,346.5 471.5,339.5 475.0,332.5 477.6,339.5 473.2,350.0 469.8,362.2 465.4,367.5 461.0,365.8 461.0,360.5" class="bd"/>
<path d="M440.0,128.0 447.0,126.2 454.0,125.4 462.8,124.5 471.5,126.2 476.8,127.1 480.2,125.4 474.1,121.0 473.2,117.5 478.5,117.5 483.8,119.2 486.4,124.5 489.0,130.6 489.9,125.4 487.2,121.0 490.8,117.5 497.8,114.9 506.5,112.2 515.2,108.8 522.2,109.6 531.0,110.5 538.0,113.1 545.0,114.0 553.8,115.8 562.5,115.8 577.5,120.1 588.0,117.5 598.5,118.4 612.5,121.0 626.5,122.8 633.5,124.5 645.8,123.6 658.0,124.5 666.8,128.0 677.2,135.0 685.1,140.2 679.0,141.1 675.5,145.5 670.2,147.2 672.0,154.2 675.5,168.2 665.0,157.8 661.5,149.0 658.0,142.0 651.0,143.8 645.8,147.2 628.2,149.0 624.8,157.8 633.5,161.2 642.2,168.2 645.8,177.0 645.8,184.0 640.5,187.5 637.0,180.5 637.0,175.2 626.5,170.0 616.0,166.5 607.2,163.0 598.5,163.0 596.8,168.2 588.0,171.8 570.5,170.0 560.0,166.5 559.0,166.5 552.0,170.9 545.0,170.0 539.8,173.5 532.8,180.5 531.0,192.8 524.0,198.0 513.5,198.0 499.5,205.0 475.0,205.0 471.5,198.0 468.0,191.0 469.8,185.8 471.5,180.5 466.2,179.6 461.0,182.2 450.5,182.2 440.0,184.0Z" fill="#ec7014" stroke="#ec7014" stroke-width="1.2" stroke-linejoin="round"/>
<path d="M447.9,117.5 452.2,114.0 459.2,110.5 466.2,108.8 459.2,112.2 454.0,117.5 452.2,121.9 448.8,121.0Z" fill="#ec7014" stroke="#ec7014" stroke-width="1.2" stroke-linejoin="round"/>
<path d="M447.9,117.5 452.2,114.0 459.2,110.5 466.2,108.8 459.2,112.2 454.0,117.5 452.2,121.9 448.8,121.0 447.9,117.5" class="bd"/>
<path d="M493.4,101.8 501.2,102.6 508.2,104.4 503.0,105.2 496.0,104.4Z" fill="#ec7014" stroke="#ec7014" stroke-width="1.2" stroke-linejoin="round"/>
<path d="M493.4,101.8 501.2,102.6 508.2,104.4 503.0,105.2 496.0,104.4 493.4,101.8" class="bd"/>
<path d="M510.0,104.4 517.0,106.1 511.8,107.0Z" fill="#ec7014" stroke="#ec7014" stroke-width="1.2" stroke-linejoin="round"/>
<path d="M510.0,104.4 517.0,106.1 511.8,107.0 510.0,104.4" class="bd"/>
<path d="M574.0,111.4 584.5,112.2 595.0,112.2 588.0,114.0 577.5,113.1Z" fill="#ec7014" stroke="#ec7014" stroke-width="1.2" stroke-linejoin="round"/>
<path d="M574.0,111.4 584.5,112.2 595.0,112.2 588.0,114.0 577.5,113.1 574.0,111.4" class="bd"/>
<path d="M638.8,161.2 647.5,168.2 654.5,178.8 657.1,182.2 651.0,177.0 642.2,166.5Z" fill="#ec7014" stroke="#ec7014" stroke-width="1.2" stroke-linejoin="round"/>
<path d="M638.8,161.2 647.5,168.2 654.5,178.8 657.1,182.2 651.0,177.0 642.2,166.5 638.8,161.2" class="bd"/>
<path d="M461.0,182.2 466.2,179.6 471.5,180.5 469.8,185.8 468.0,191.0 471.5,198.0 475.0,205.0 468.0,205.0 462.8,198.0 460.1,189.2Z" fill="#fff"/>
<path d="M475.0,191.0 483.8,191.0 490.8,194.5 499.5,201.5 499.5,205.0 475.0,205.0Z" fill="url(#hatch)"/>
<path d="M475.0,191.0 483.8,191.0 490.8,194.5 499.5,201.5 499.5,205.0M475.0,205.0 475.0,191.0" class="bdn"/>
<path d="M513.5,189.2 524.0,189.2 529.2,192.8 524.0,198.0 513.5,198.0Z" fill="#fe9929" stroke="#fe9929" stroke-width="1.2" stroke-linejoin="round"/>
<path d="M513.5,189.2 524.0,189.2 529.2,192.8 524.0,198.0 513.5,198.0 513.5,189.2" class="bd"/>
<path d="M521.0,197.0 532.8,180.5 539.8,173.5 548.5,180.5 562.5,187.5 570.5,191.0 586.2,191.0 595.0,185.8 607.2,178.8 596.8,171.8 598.5,163.0 607.2,163.0 616.0,166.5 626.5,170.0 637.0,175.2 637.0,180.5 640.5,187.5 633.5,192.8 626.5,198.0 619.5,205.0 617.0,199.9 624.0,202.5 622.2,207.8 627.5,213.0 631.0,218.2 634.5,225.2 631.0,232.2 627.5,237.5 622.2,241.0 617.0,242.8 611.8,245.4 606.5,244.5 603.0,242.8 596.0,241.0 590.8,242.8 585.5,241.0 580.2,234.0 576.8,227.0 573.2,225.2 564.5,227.0 559.2,224.4 550.5,222.6 543.5,220.0 532.0,212.5 525.0,209.0 523.2,200.2Z" fill="#993404" stroke="#993404" stroke-width="1.2" stroke-linejoin="round"/>
<path d="M521.0,197.0 532.8,180.5 539.8,173.5 548.5,180.5 562.5,187.5 570.5,191.0 586.2,191.0 595.0,185.8 607.2,178.8 596.8,171.8 598.5,163.0 607.2,163.0 616.0,166.5 626.5,170.0 637.0,175.2 637.0,180.5 640.5,187.5 633.5,192.8 626.5,198.0 619.5,205.0 617.0,199.9 624.0,202.5 622.2,207.8 627.5,213.0 631.0,218.2 634.5,225.2 631.0,232.2 627.5,237.5 622.2,241.0 617.0,242.8 611.8,245.4 606.5,244.5 603.0,242.8 596.0,241.0 590.8,242.8 585.5,241.0 580.2,234.0 576.8,227.0 573.2,225.2 564.5,227.0 559.2,224.4 550.5,222.6 543.5,220.0 532.0,212.5 525.0,209.0 523.2,200.2 521.0,197.0" class="bd"/>
<path d="M539.8,173.5 545.0,170.0 552.0,170.9 559.0,166.5 570.5,170.0 588.0,171.8 596.8,168.2 596.8,171.8 607.2,178.8 595.0,185.8 586.2,191.0 570.5,191.0 560.0,187.5 548.5,180.5Z" fill="#fec44f" stroke="#fec44f" stroke-width="1.2" stroke-linejoin="round"/>
<path d="M539.8,173.5 545.0,170.0 552.0,170.9 559.0,166.5 570.5,170.0 588.0,171.8 596.8,168.2 596.8,171.8 607.2,178.8 595.0,185.8 586.2,191.0 570.5,191.0 560.0,187.5 548.5,180.5 539.8,173.5" class="bd"/>
<path d="M624.0,194.6 634.5,192.0 638.0,195.5 634.5,200.8 629.2,201.6Z" fill="url(#hatch)"/>
<path d="M624.0,194.6 634.5,192.0 638.0,195.5 634.5,200.8 629.2,201.6 624.0,194.6" class="bdn"/>
<path d="M634.5,200.8 639.8,202.5 643.2,209.5 639.8,211.2 636.2,207.8Z" fill="#cc4c02" stroke="#cc4c02" stroke-width="1.2" stroke-linejoin="round"/>
<path d="M634.5,200.8 639.8,202.5 643.2,209.5 639.8,211.2 636.2,207.8 634.5,200.8" class="bd"/>
<path d="M655.4,184.0 665.0,185.8 666.8,189.2 661.5,192.8 665.0,205.0 659.8,205.0 657.1,192.8Z" fill="#993404" stroke="#993404" stroke-width="1.2" stroke-linejoin="round"/>
<path d="M655.4,184.0 665.0,185.8 666.8,189.2 661.5,192.8 665.0,205.0M659.8,205.0 657.1,192.8 655.4,184.0" class="bd"/>
<path d="M653.8,185.0 662.5,185.0 666.0,188.5 662.5,195.5 666.0,207.8 657.2,213.0 652.0,218.2 646.8,214.8 655.5,207.8 660.8,199.0 657.2,192.0Z" fill="#993404" stroke="#993404" stroke-width="1.2" stroke-linejoin="round"/>
<path d="M662.5,185.0 666.0,188.5 662.5,195.5 666.0,207.8 657.2,213.0 652.0,218.2 646.8,214.8 655.5,207.8 660.8,199.0 657.2,192.0 653.8,185.0" class="bd"/>
<path d="M610.0,249.8 613.5,248.9 614.4,252.4 610.9,253.2Z" fill="#993404" stroke="#993404" stroke-width="1.2" stroke-linejoin="round"/>
<path d="M610.0,249.8 613.5,248.9 614.4,252.4 610.9,253.2 610.0,249.8" class="bd"/>
<path d="M633.6,235.8 636.2,234.9 636.2,242.8 634.5,243.6Z" fill="url(#hatch)"/>
<path d="M633.6,235.8 636.2,234.9 636.2,242.8 634.5,243.6 633.6,235.8" class="bdn"/>
<path d="M525.0,209.0 532.0,212.5 540.8,221.2 550.5,222.6 559.2,224.4 561.0,230.5 571.5,227.0 578.5,225.2 580.2,232.2 576.8,239.2 571.5,242.8 566.2,237.5 562.8,242.8 557.5,244.5 550.5,251.5 547.0,260.2 545.2,272.5 542.5,277.2 540.8,280.8 532.0,268.5 528.5,258.0 525.0,247.5 519.8,240.5 521.5,237.0 518.0,230.0 521.5,221.2 526.8,214.2Z" fill="#ec7014" stroke="#ec7014" stroke-width="1.2" stroke-linejoin="round"/>
<path d="M525.0,209.0 532.0,212.5 540.8,221.2 550.5,222.6 559.2,224.4 561.0,230.5 571.5,227.0 578.5,225.2 580.2,232.2 576.8,239.2 571.5,242.8 566.2,237.5 562.8,242.8 557.5,244.5 550.5,251.5 547.0,260.2 545.2,272.5 542.5,277.2 540.8,280.8 532.0,268.5 528.5,258.0 525.0,247.5 519.8,240.5 521.5,237.0 518.0,230.0 521.5,221.2 526.8,214.2 525.0,209.0" class="bd"/>
<path d="M541.8,223.5 550.5,225.2 559.2,227.9 558.4,231.4 550.5,229.6 541.8,227.0Z" fill="#fee391" stroke="#fee391" stroke-width="1.2" stroke-linejoin="round"/>
<path d="M541.8,223.5 550.5,225.2 559.2,227.9 558.4,231.4 550.5,229.6 541.8,227.0 541.8,223.5" class="bd"/>
<path d="M573.2,228.8 580.2,230.5 585.5,237.5 589.0,242.8 590.8,249.8 587.2,251.5 585.5,258.5 589.0,269.0 587.2,270.8 582.9,262.0 580.2,255.0 576.8,249.8 571.5,242.8 576.8,239.2Z" fill="#fec44f" stroke="#fec44f" stroke-width="1.2" stroke-linejoin="round"/>
<path d="M573.2,228.8 580.2,230.5 585.5,237.5 589.0,242.8 590.8,249.8 587.2,251.5 585.5,258.5 589.0,269.0 587.2,270.8 582.9,262.0 580.2,255.0 576.8,249.8 571.5,242.8 576.8,239.2 573.2,228.8" class="bd"/>
<path d="M585.5,251.5 592.5,248.0 594.2,251.5 599.5,258.5 601.2,265.5 597.8,269.0 592.5,269.0 590.8,276.0 594.2,283.0 597.8,288.2 592.5,286.5 589.0,279.5 587.2,270.8 585.5,258.5Z" fill="#fe9929" stroke="#fe9929" stroke-width="1.2" stroke-linejoin="round"/>
<path d="M585.5,251.5 592.5,248.0 594.2,251.5 599.5,258.5 601.2,265.5 597.8,269.0 592.5,269.0 590.8,276.0 594.2,283.0 597.8,288.2 592.5,286.5 589.0,279.5 587.2,270.8 585.5,258.5 585.5,251.5" class="bd"/>
<path d="M590.8,244.5 597.8,242.8 603.0,249.8 606.5,258.5 604.8,263.8 599.5,258.5 594.2,251.5 592.5,248.0Z" fill="url(#hatch)"/>
<path d="M590.8,244.5 597.8,242.8 603.0,249.8 606.5,258.5 604.8,263.8 599.5,258.5 594.2,251.5 592.5,248.0 590.8,244.5" class="bdn"/>
<path d="M596.0,241.0 603.0,242.8 606.5,244.5 603.0,251.5 610.0,258.5 613.5,267.2 610.0,272.5 604.8,277.8 603.0,272.5 608.2,267.2 606.5,258.5 603.0,249.8 597.8,242.8Z" fill="#fe9929" stroke="#fe9929" stroke-width="1.2" stroke-linejoin="round"/>
<path d="M596.0,241.0 603.0,242.8 606.5,244.5 603.0,251.5 610.0,258.5 613.5,267.2 610.0,272.5 604.8,277.8 603.0,272.5 608.2,267.2 606.5,258.5 603.0,249.8 597.8,242.8 596.0,241.0" class="bd"/>
<path d="M597.8,265.5 606.5,263.8 609.1,269.0 604.8,274.2 599.5,272.5Z" fill="#fee391" stroke="#fee391" stroke-width="1.2" stroke-linejoin="round"/>
<path d="M597.8,265.5 606.5,263.8 609.1,269.0 604.8,274.2 599.5,272.5 597.8,265.5" class="bd"/>
<path d="M636.2,253.2 641.5,253.2 643.2,262.0 646.8,267.2 641.5,269.0 638.0,262.0Z" fill="#ec7014" stroke="#ec7014" stroke-width="1.2" stroke-linejoin="round"/>
<path d="M636.2,253.2 641.5,253.2 643.2,262.0 646.8,267.2 641.5,269.0 638.0,262.0 636.2,253.2" class="bd"/>
<path d="M643.2,276.0 652.0,274.2 654.6,283.0 648.5,286.5 644.1,283.0Z" fill="#ec7014" stroke="#ec7014" stroke-width="1.2" stroke-linejoin="round"/>
<path d="M643.2,276.0 652.0,274.2 654.6,283.0 648.5,286.5 644.1,283.0 643.2,276.0" class="bd"/>
<path d="M642.4,269.0 649.4,269.9 650.2,273.4 644.1,274.2Z" fill="#ec7014" stroke="#ec7014" stroke-width="1.2" stroke-linejoin="round"/>
<path d="M642.4,269.0 649.4,269.9 650.2,273.4 644.1,274.2 642.4,269.0" class="bd"/>
<path d="M627.5,279.5 635.4,270.8 636.2,272.5 629.2,280.4Z" fill="#ec7014" stroke="#ec7014" stroke-width="1.2" stroke-linejoin="round"/>
<path d="M627.5,279.5 635.4,270.8 636.2,272.5 629.2,280.4 627.5,279.5" class="bd"/>
<path d="M547.0,276.0 549.6,276.0 551.4,283.0 548.8,285.6 546.1,281.2Z" fill="#fee391" stroke="#fee391" stroke-width="1.2" stroke-linejoin="round"/>
<path d="M547.0,276.0 549.6,276.0 551.4,283.0 548.8,285.6 546.1,281.2 547.0,276.0" class="bd"/>
<path d="M589.2,270.0 591.0,277.0 596.2,284.0 599.8,289.2 603.2,298.0 599.8,296.2 594.5,287.5 589.2,280.5Z" fill="#cc4c02" stroke="#cc4c02" stroke-width="1.2" stroke-linejoin="round"/>
<path d="M589.2,270.0 591.0,277.0 596.2,284.0 599.8,289.2 603.2,298.0 599.8,296.2 594.5,287.5 589.2,280.5 589.2,270.0" class="bd"/>
<path d="M582.2,287.5 587.5,286.6 594.5,294.5 601.5,301.5 606.8,310.2 606.8,316.4 603.2,315.5 598.0,305.0 591.0,296.2Z" fill="#fe9929" stroke="#fe9929" stroke-width="1.2" stroke-linejoin="round"/>
<path d="M582.2,287.5 587.5,286.6 594.5,294.5 601.5,301.5 606.8,310.2 606.8,316.4 603.2,315.5 598.0,305.0 591.0,296.2 582.2,287.5" class="bd"/>
<path d="M605.9,316.4 615.5,318.1 622.5,320.8 627.8,322.5 624.2,323.4 615.5,321.6 606.8,319.9Z" fill="#fe9929" stroke="#fe9929" stroke-width="1.2" stroke-linejoin="round"/>
<path d="M605.9,316.4 615.5,318.1 622.5,320.8 627.8,322.5 624.2,323.4 615.5,321.6 606.8,319.9 605.9,316.4" class="bd"/>
<path d="M631.2,322.5 636.5,322.5 635.6,324.2Z" fill="#fe9929" stroke="#fe9929" stroke-width="1.2" stroke-linejoin="round"/>
<path d="M631.2,322.5 636.5,322.5 635.6,324.2 631.2,322.5" class="bd"/>
<path d="M638.2,322.5 645.2,321.6 643.5,324.2Z" fill="#fe9929" stroke="#fe9929" stroke-width="1.2" stroke-linejoin="round"/>
<path d="M638.2,322.5 645.2,321.6 643.5,324.2 638.2,322.5" class="bd"/>
<path d="M647.0,326.0 655.8,322.5 652.2,326.0Z" fill="#fe9929" stroke="#fe9929" stroke-width="1.2" stroke-linejoin="round"/>
<path d="M647.0,326.0 655.8,322.5 652.2,326.0 647.0,326.0" class="bd"/>
<path d="M614.6,297.1 622.5,294.5 629.5,289.2 636.5,286.6 635.6,292.8 634.8,299.8 631.2,310.2 624.2,311.1 619.0,307.6 615.5,303.2Z" fill="#fe9929" stroke="#fe9929" stroke-width="1.2" stroke-linejoin="round"/>
<path d="M614.6,297.1 622.5,294.5 629.5,289.2 636.5,286.6 635.6,292.8 634.8,299.8 631.2,310.2 624.2,311.1 619.0,307.6 615.5,303.2 614.6,297.1" class="bd"/>
<path d="M616.4,298.0 622.5,292.8 627.8,287.5 631.2,284.0 637.4,286.6 635.6,291.0 629.5,292.8 622.5,296.2 619.0,298.9Z" fill="#cc4c02" stroke="#cc4c02" stroke-width="1.2" stroke-linejoin="round"/>
<path d="M616.4,298.0 622.5,292.8 627.8,287.5 631.2,284.0 637.4,286.6 635.6,291.0 629.5,292.8 622.5,296.2 619.0,298.9 616.4,298.0" class="bd"/>
<path d="M638.2,299.8 643.5,298.0 651.4,297.1 647.0,299.8 643.5,302.4 647.0,308.5 645.2,315.5 640.0,312.0 638.2,306.8Z" fill="#fe9929" stroke="#fe9929" stroke-width="1.2" stroke-linejoin="round"/>
<path d="M638.2,299.8 643.5,298.0 651.4,297.1 647.0,299.8 643.5,302.4 647.0,308.5 645.2,315.5 640.0,312.0 638.2,306.8 638.2,299.8" class="bd"/>
<path d="M657.5,296.2 660.1,297.1 659.2,303.2Z" fill="#fe9929" stroke="#fe9929" stroke-width="1.2" stroke-linejoin="round"/>
<path d="M657.5,296.2 660.1,297.1 659.2,303.2 657.5,296.2" class="bd"/>
<path d="M664.5,303.2 671.5,302.4 680.2,305.9 687.2,307.6 687.2,324.2 680.2,322.5 676.8,317.2 671.5,313.8 668.0,308.5Z" fill="#fe9929" stroke="#fe9929" stroke-width="1.2" stroke-linejoin="round"/>
<path d="M664.5,303.2 671.5,302.4 680.2,305.9 687.2,307.6 687.2,324.2 680.2,322.5 676.8,317.2 671.5,313.8 668.0,308.5 664.5,303.2" class="bd"/>
<path d="M687.2,307.6 696.0,312.0 701.2,319.0 708.2,327.8 699.5,326.0 692.5,324.2 687.2,324.2Z" fill="#ec7014" stroke="#ec7014" stroke-width="1.2" stroke-linejoin="round"/>
<path d="M687.2,307.6 696.0,312.0 701.2,319.0 708.2,327.8 699.5,326.0 692.5,324.2 687.2,324.2 687.2,307.6" class="bd"/>
<path d="M642.6,270.0 648.8,270.0 652.2,275.2 654.0,284.0 650.5,285.8 645.2,280.5 643.5,275.2Z" fill="#ec7014" stroke="#ec7014" stroke-width="1.2" stroke-linejoin="round"/>
<path d="M648.8,270.0 652.2,275.2 654.0,284.0 650.5,285.8 645.2,280.5 643.5,275.2 642.6,270.0" class="bd"/>
<path d="M413.5,122.2 424.0,125.4 432.8,128.9 438.0,127.5 445.0,126.6 453.8,125.8 466.0,124.0 480.0,123.1 480.0,180.0 474.8,192.2 469.5,195.8 459.0,192.2 453.8,187.0 445.0,187.0 441.5,180.0 443.2,175.6 441.5,170.4 432.8,166.0 425.8,164.2 424.0,159.9 417.0,156.4 416.1,152.9 415.2,145.9 418.8,141.5Z" fill="#ec7014" stroke="#ec7014" stroke-width="1.2" stroke-linejoin="round"/>
<path d="M417.0,194.0 424.0,192.2 432.8,192.2 445.0,190.5 455.5,192.2 457.2,199.2 450.2,202.8 438.0,204.5 427.5,205.4 420.5,202.8 417.0,199.2Z" fill="#ec7014" stroke="#ec7014" stroke-width="1.2" stroke-linejoin="round"/>
<path d="M417.0,194.0 424.0,192.2 432.8,192.2 445.0,190.5 455.5,192.2 457.2,199.2 450.2,202.8 438.0,204.5 427.5,205.4 420.5,202.8 417.0,199.2 417.0,194.0" class="bd"/>
<path d="M448.5,188.8 459.0,188.8 466.0,194.0 462.5,197.5 455.5,197.5Z" fill="#fe9929" stroke="#fe9929" stroke-width="1.2" stroke-linejoin="round"/>
<path d="M448.5,188.8 459.0,188.8 466.0,194.0 462.5,197.5 455.5,197.5 448.5,188.8" class="bd"/>
<path d="M462.5,183.5 469.5,178.2 473.0,181.8 469.5,187.0 474.8,195.8 473.0,201.0 467.8,199.2 466.0,192.2Z" fill="#fff"/>
<path d="M413.8,122.5 421.2,125.0 427.5,127.5 433.8,128.8 438.8,126.9 440.0,126.2 440.0,167.5 435.0,165.0 427.5,162.5 422.5,157.5 416.2,155.0 415.0,150.6 415.0,146.9 418.8,140.0 415.0,128.8Z" fill="#ec7014" stroke="#ec7014" stroke-width="1.2" stroke-linejoin="round"/>
<path d="M421.2,131.2 427.5,130.0 435.0,131.2 432.5,135.0 427.5,136.9 425.0,133.8Z" fill="#fff"/>
<path d="M372.5,141.9 377.5,137.5 383.8,132.5 390.0,127.5 396.2,123.8 403.8,121.2 410.0,120.6 413.8,122.5 410.0,123.8 405.0,123.8 402.5,126.2 398.8,126.9 392.5,130.0 387.5,135.0 385.0,141.2 384.4,147.5 382.5,150.6 377.5,150.0 373.8,147.5Z" fill="#7f2c05" stroke="#7f2c05" stroke-width="1.2" stroke-linejoin="round"/>
<path d="M372.5,141.9 377.5,137.5 383.8,132.5 390.0,127.5 396.2,123.8 403.8,121.2 410.0,120.6 413.8,122.5 410.0,123.8 405.0,123.8 402.5,126.2 398.8,126.9 392.5,130.0 387.5,135.0 385.0,141.2 384.4,147.5 382.5,150.6 377.5,150.0 373.8,147.5 372.5,141.9" class="bd"/>
<path d="M385.0,141.2 387.5,135.0 392.5,130.0 398.8,126.9 402.5,126.2 403.8,131.2 402.5,133.8 397.5,136.2 395.0,142.5 395.0,147.5 392.5,152.5 389.4,156.9 386.9,157.5 385.6,153.8 383.8,151.2 384.4,147.5Z" fill="#7f2c05" stroke="#7f2c05" stroke-width="1.2" stroke-linejoin="round"/>
<path d="M385.0,141.2 387.5,135.0 392.5,130.0 398.8,126.9 402.5,126.2 403.8,131.2 402.5,133.8 397.5,136.2 395.0,142.5 395.0,147.5 392.5,152.5 389.4,156.9 386.9,157.5 385.6,153.8 383.8,151.2 384.4,147.5 385.0,141.2" class="bd"/>
<path d="M402.5,126.2 405.0,123.8 410.0,123.8 413.8,122.5 415.0,128.8 418.8,140.0 416.2,145.0 410.0,146.9 405.0,146.2 402.5,143.8 401.2,138.8 405.0,135.0 403.8,131.2Z" fill="#993404" stroke="#993404" stroke-width="1.2" stroke-linejoin="round"/>
<path d="M402.5,126.2 405.0,123.8 410.0,123.8 413.8,122.5 415.0,128.8 418.8,140.0 416.2,145.0 410.0,146.9 405.0,146.2 402.5,143.8 401.2,138.8 405.0,135.0 403.8,131.2 402.5,126.2" class="bd"/>
<path d="M378.8,153.8 382.5,152.5 383.1,158.1 380.0,159.4 378.8,157.5Z" fill="#7f2c05" stroke="#7f2c05" stroke-width="1.2" stroke-linejoin="round"/>
<path d="M378.8,153.8 382.5,152.5 383.1,158.1 380.0,159.4 378.8,157.5 378.8,153.8" class="bd"/>
<path d="M352.5,151.2 356.2,150.0 358.8,153.8 360.0,158.8 363.8,162.5 365.6,165.0 362.5,167.5 356.2,168.8 352.5,170.0 355.0,165.0 353.8,161.2 351.9,156.2Z" fill="#7f2c05" stroke="#7f2c05" stroke-width="1.2" stroke-linejoin="round"/>
<path d="M352.5,151.2 356.2,150.0 358.8,153.8 360.0,158.8 363.8,162.5 365.6,165.0 362.5,167.5 356.2,168.8 352.5,170.0 355.0,165.0 353.8,161.2 351.9,156.2 352.5,151.2" class="bd"/>
<path d="M343.8,165.0 347.5,158.8 351.2,158.1 351.9,162.5 350.0,165.0 345.0,166.9Z" fill="#993404" stroke="#993404" stroke-width="1.2" stroke-linejoin="round"/>
<path d="M343.8,165.0 347.5,158.8 351.2,158.1 351.9,162.5 350.0,165.0 345.0,166.9 343.8,165.0" class="bd"/>
<path d="M406.2,147.5 413.8,146.9 415.0,150.0 408.1,151.2Z" fill="#993404" stroke="#993404" stroke-width="1.2" stroke-linejoin="round"/>
<path d="M406.2,147.5 413.8,146.9 415.0,150.0 408.1,151.2 406.2,147.5" class="bd"/>
<path d="M405.0,151.2 415.0,150.6 416.2,153.8 406.2,155.0Z" fill="#cc4c02" stroke="#cc4c02" stroke-width="1.2" stroke-linejoin="round"/>
<path d="M405.0,151.2 415.0,150.6 416.2,153.8 406.2,155.0 405.0,151.2" class="bd"/>
<path d="M403.8,155.0 413.8,154.4 411.2,158.1 405.0,158.1Z" fill="#ec7014" stroke="#ec7014" stroke-width="1.2" stroke-linejoin="round"/>
<path d="M403.8,155.0 413.8,154.4 411.2,158.1 405.0,158.1 403.8,155.0" class="bd"/>
<path d="M410.0,158.1 416.2,155.0 422.5,157.5 426.2,162.5 422.5,166.2 411.2,166.2 409.4,162.5Z" fill="#fec44f" stroke="#fec44f" stroke-width="1.2" stroke-linejoin="round"/>
<path d="M410.0,158.1 416.2,155.0 422.5,157.5 426.2,162.5 422.5,166.2 411.2,166.2 409.4,162.5 410.0,158.1" class="bd"/>
<path d="M391.2,161.2 398.8,159.4 405.0,158.1 409.4,160.0 410.0,167.5 407.5,171.2 401.2,171.2 395.0,167.5 391.2,165.0Z" fill="#cc4c02" stroke="#cc4c02" stroke-width="1.2" stroke-linejoin="round"/>
<path d="M391.2,161.2 398.8,159.4 405.0,158.1 409.4,160.0 410.0,167.5 407.5,171.2 401.2,171.2 395.0,167.5 391.2,165.0 391.2,161.2" class="bd"/>
<path d="M376.2,162.5 380.0,160.0 385.0,158.8 391.2,161.2 391.2,165.0 395.0,167.5 390.0,170.0 388.8,173.8 388.8,177.5 382.5,178.8 377.5,176.2 376.2,170.0 375.0,166.2Z" fill="#7f2c05" stroke="#7f2c05" stroke-width="1.2" stroke-linejoin="round"/>
<path d="M376.2,162.5 380.0,160.0 385.0,158.8 391.2,161.2 391.2,165.0 395.0,167.5 390.0,170.0 388.8,173.8 388.8,177.5 382.5,178.8 377.5,176.2 376.2,170.0 375.0,166.2 376.2,162.5" class="bd"/>
<path d="M371.2,165.0 376.2,162.5 375.6,170.0 370.0,168.8Z" fill="#7f2c05" stroke="#7f2c05" stroke-width="1.2" stroke-linejoin="round"/>
<path d="M371.2,165.0 376.2,162.5 375.6,170.0 370.0,168.8 371.2,165.0" class="bd"/>
<path d="M353.8,176.2 360.0,172.5 367.5,170.0 370.0,168.8 375.6,170.0 377.5,176.2 376.2,180.0 377.5,185.0 378.8,190.0 362.5,190.0 361.2,185.0 358.8,180.0Z" fill="#993404" stroke="#993404" stroke-width="1.2" stroke-linejoin="round"/>
<path d="M353.8,176.2 360.0,172.5 367.5,170.0 370.0,168.8 375.6,170.0 377.5,176.2 376.2,180.0 377.5,185.0 378.8,190.0M362.5,190.0 361.2,185.0 358.8,180.0 353.8,176.2" class="bd"/>
<path d="M388.8,171.2 395.0,168.8 401.2,171.2 398.8,175.0 392.5,176.2 388.8,175.0Z" fill="#993404" stroke="#993404" stroke-width="1.2" stroke-linejoin="round"/>
<path d="M388.8,171.2 395.0,168.8 401.2,171.2 398.8,175.0 392.5,176.2 388.8,175.0 388.8,171.2" class="bd"/>
<path d="M376.2,177.5 382.5,178.8 388.8,177.5 392.5,176.2 398.8,175.6 397.5,178.8 391.2,181.2 382.5,181.2 377.5,181.2Z" fill="#993404" stroke="#993404" stroke-width="1.2" stroke-linejoin="round"/>
<path d="M376.2,177.5 382.5,178.8 388.8,177.5 392.5,176.2 398.8,175.6 397.5,178.8 391.2,181.2 382.5,181.2 377.5,181.2 376.2,177.5" class="bd"/>
<path d="M397.5,178.8 406.2,176.2 408.8,178.8 405.0,183.8 396.2,183.1Z" fill="#cc4c02" stroke="#cc4c02" stroke-width="1.2" stroke-linejoin="round"/>
<path d="M397.5,178.8 406.2,176.2 408.8,178.8 405.0,183.8 396.2,183.1 397.5,178.8" class="bd"/>
<path d="M398.8,175.0 407.5,172.5 410.0,175.0 406.2,176.2Z" fill="#cc4c02" stroke="#cc4c02" stroke-width="1.2" stroke-linejoin="round"/>
<path d="M398.8,175.0 407.5,172.5 410.0,175.0 406.2,176.2 398.8,175.0" class="bd"/>
<path d="M410.0,167.5 411.2,166.2 422.5,166.2 427.5,162.5 435.0,165.0 440.0,167.5 440.0,185.0 430.0,185.0 426.2,180.0 421.2,176.2 413.8,173.8 408.8,173.8 407.5,171.2Z" fill="#ec7014" stroke="#ec7014" stroke-width="1.2" stroke-linejoin="round"/>
<path d="M410.0,167.5 411.2,166.2 422.5,166.2 427.5,162.5 435.0,165.0 440.0,167.5M440.0,185.0 430.0,185.0 426.2,180.0 421.2,176.2 413.8,173.8 408.8,173.8 407.5,171.2 410.0,167.5" class="bd"/>
<path d="M408.8,178.8 413.8,175.0 421.2,176.2 422.5,182.5 416.2,187.5 410.0,186.2 406.2,183.8Z" fill="#ec7014" stroke="#ec7014" stroke-width="1.2" stroke-linejoin="round"/>
<path d="M408.8,178.8 413.8,175.0 421.2,176.2 422.5,182.5 416.2,187.5 410.0,186.2 406.2,183.8 408.8,178.8" class="bd"/>
<path d="M397.5,185.0 406.2,183.8 410.0,187.5 406.2,190.0 397.5,190.0Z" fill="#ec7014" stroke="#ec7014" stroke-width="1.2" stroke-linejoin="round"/>
<path d="M397.5,185.0 406.2,183.8 410.0,187.5 406.2,190.0M397.5,190.0 397.5,185.0" class="bd"/>
<path d="M392.5,182.5 396.2,183.1 398.8,190.0 393.8,190.0 390.0,185.0Z" fill="#fe9929" stroke="#fe9929" stroke-width="1.2" stroke-linejoin="round"/>
<path d="M392.5,182.5 396.2,183.1 398.8,190.0M393.8,190.0 390.0,185.0 392.5,182.5" class="bd"/>
<path d="M377.5,181.2 382.5,181.2 391.2,181.2 390.0,185.0 392.5,190.0 382.5,190.0 378.8,186.2Z" fill="#7f2c05" stroke="#7f2c05" stroke-width="1.2" stroke-linejoin="round"/>
<path d="M377.5,181.2 382.5,181.2 391.2,181.2 390.0,185.0 392.5,190.0M382.5,190.0 378.8,186.2 377.5,181.2" class="bd"/>
<path d="M345.0,188.8 352.5,187.5 361.2,188.8 368.8,191.2 366.2,196.2 361.2,198.8 360.0,203.8 356.2,206.2 351.2,206.9 347.5,203.8 343.8,202.5 343.8,192.5Z" fill="#cc4c02" stroke="#cc4c02" stroke-width="1.2" stroke-linejoin="round"/>
<path d="M345.0,188.8 352.5,187.5 361.2,188.8 368.8,191.2 366.2,196.2 361.2,198.8 360.0,203.8 356.2,206.2 351.2,206.9 347.5,203.8 343.8,202.5 343.8,192.5 345.0,188.8" class="bd"/>
<path d="M342.5,192.5 345.6,191.2 347.5,196.2 346.9,203.8 343.8,203.8Z" fill="#cc4c02" stroke="#cc4c02" stroke-width="1.2" stroke-linejoin="round"/>
<path d="M342.5,192.5 345.6,191.2 347.5,196.2 346.9,203.8 343.8,203.8 342.5,192.5" class="bd"/>
<path d="M360.0,180.0 377.5,180.0 377.5,183.8 375.0,187.5 368.8,187.5 362.5,186.2 360.6,183.8Z" fill="#993404" stroke="#993404" stroke-width="1.2" stroke-linejoin="round"/>
<path d="M377.5,180.0 377.5,183.8 375.0,187.5 368.8,187.5 362.5,186.2 360.6,183.8 360.0,180.0" class="bd"/>
<path d="M377.5,180.0 390.0,180.0 388.8,185.0 392.5,190.0 398.8,195.0 401.2,197.5 397.5,198.8 397.5,203.8 395.0,205.0 393.8,200.0 390.0,195.0 385.0,190.0 381.2,186.2 377.5,183.8Z" fill="#7f2c05" stroke="#7f2c05" stroke-width="1.2" stroke-linejoin="round"/>
<path d="M390.0,180.0 388.8,185.0 392.5,190.0 398.8,195.0 401.2,197.5 397.5,198.8 397.5,203.8 395.0,205.0 393.8,200.0 390.0,195.0 385.0,190.0 381.2,186.2 377.5,183.8 377.5,180.0" class="bd"/>
<path d="M390.0,202.5 395.0,201.2 395.6,204.4 391.2,204.4Z" fill="#7f2c05" stroke="#7f2c05" stroke-width="1.2" stroke-linejoin="round"/>
<path d="M390.0,202.5 395.0,201.2 395.6,204.4 391.2,204.4 390.0,202.5" class="bd"/>
<path d="M381.2,192.5 383.8,192.5 383.8,198.8 381.2,198.8Z" fill="#7f2c05" stroke="#7f2c05" stroke-width="1.2" stroke-linejoin="round"/>
<path d="M381.2,192.5 383.8,192.5 383.8,198.8 381.2,198.8 381.2,192.5" class="bd"/>
<path d="M381.2,188.8 383.1,188.8 382.5,191.2Z" fill="#7f2c05" stroke="#7f2c05" stroke-width="1.2" stroke-linejoin="round"/>
<path d="M381.2,188.8 383.1,188.8 382.5,191.2 381.2,188.8" class="bd"/>
<path d="M390.0,180.0 395.0,180.0 395.0,185.0 401.2,186.2 403.8,190.0 400.0,191.2 392.5,186.2Z" fill="#fe9929" stroke="#fe9929" stroke-width="1.2" stroke-linejoin="round"/>
<path d="M395.0,180.0 395.0,185.0 401.2,186.2 403.8,190.0 400.0,191.2 392.5,186.2 390.0,180.0" class="bd"/>
<path d="M395.0,180.0 407.5,180.0 410.0,182.5 415.0,187.5 415.0,192.5 410.0,193.8 405.0,191.2 402.5,187.5 401.2,186.2 395.0,185.0Z" fill="#ec7014" stroke="#ec7014" stroke-width="1.2" stroke-linejoin="round"/>
<path d="M407.5,180.0 410.0,182.5 415.0,187.5 415.0,192.5 410.0,193.8 405.0,191.2 402.5,187.5 401.2,186.2 395.0,185.0 395.0,180.0" class="bd"/>
<path d="M402.5,187.5 405.0,191.2 407.5,195.0 405.0,196.2Z" fill="#fec44f" stroke="#fec44f" stroke-width="1.2" stroke-linejoin="round"/>
<path d="M402.5,187.5 405.0,191.2 407.5,195.0 405.0,196.2 402.5,187.5" class="bd"/>
<path d="M405.0,196.2 410.0,193.8 415.0,195.0 413.8,198.8 410.0,201.2 412.5,205.0 407.5,206.2 405.0,201.2Z" fill="#cc4c02" stroke="#cc4c02" stroke-width="1.2" stroke-linejoin="round"/>
<path d="M405.0,196.2 410.0,193.8 415.0,195.0 413.8,198.8 410.0,201.2 412.5,205.0 407.5,206.2 405.0,201.2 405.0,196.2" class="bd"/>
<path d="M410.0,187.5 422.5,186.2 423.8,191.2 420.0,193.8 415.0,192.5Z" fill="#ec7014" stroke="#ec7014" stroke-width="1.2" stroke-linejoin="round"/>
<path d="M410.0,187.5 422.5,186.2 423.8,191.2 420.0,193.8 415.0,192.5 410.0,187.5" class="bd"/>
<path d="M407.5,180.0 422.5,180.0 425.0,185.0 422.5,186.2 410.0,187.5Z" fill="#ec7014" stroke="#ec7014" stroke-width="1.2" stroke-linejoin="round"/>
<path d="M422.5,180.0 425.0,185.0 422.5,186.2 410.0,187.5 407.5,180.0" class="bd"/>
<path d="M422.5,180.0 440.0,180.0 440.0,191.2 430.0,192.5 425.0,191.2 423.8,185.0Z" fill="#fff"/>
<path d="M420.0,193.8 425.0,191.9 430.0,192.5 440.0,191.2 440.0,205.0 435.0,206.2 427.5,206.2 422.5,202.5 418.8,198.8Z" fill="#ec7014" stroke="#ec7014" stroke-width="1.2" stroke-linejoin="round"/>
<path d="M420.0,193.8 425.0,191.9 430.0,192.5 440.0,191.2M440.0,205.0 435.0,206.2 427.5,206.2 422.5,202.5 418.8,198.8 420.0,193.8" class="bd"/>
<path d="M343.8,222.5 352.5,212.5 358.8,208.8 371.2,206.2 381.2,204.4 383.8,205.0 386.2,212.5 385.0,217.5 387.5,238.8 380.0,245.0 372.5,251.2 348.8,236.2 343.8,230.0Z" fill="#ec7014" stroke="#ec7014" stroke-width="1.2" stroke-linejoin="round"/>
<path d="M343.8,222.5 352.5,212.5 358.8,208.8 371.2,206.2 381.2,204.4 383.8,205.0 386.2,212.5 385.0,217.5 387.5,238.8 380.0,245.0 372.5,251.2 348.8,236.2 343.8,230.0 343.8,222.5" class="bd"/>
<path d="M340.0,220.0 345.0,215.0 350.0,208.8 356.2,208.1 360.0,211.2 358.8,216.2 350.0,221.2 345.0,225.0 340.0,230.0Z" fill="#ec7014" stroke="#ec7014" stroke-width="1.2" stroke-linejoin="round"/>
<path d="M340.0,220.0 345.0,215.0 350.0,208.8 356.2,208.1 360.0,211.2 358.8,216.2 350.0,221.2 345.0,225.0 340.0,230.0" class="bd"/>
<path d="M380.0,205.0 385.0,203.8 387.5,211.2 386.2,217.5 383.8,217.5 380.0,212.5Z" fill="#ec7014" stroke="#ec7014" stroke-width="1.2" stroke-linejoin="round"/>
<path d="M380.0,205.0 385.0,203.8 387.5,211.2 386.2,217.5 383.8,217.5 380.0,212.5 380.0,205.0" class="bd"/>
<path d="M385.0,217.5 387.5,215.0 395.0,216.2 402.5,218.8 410.0,216.2 417.5,218.8 418.8,247.5 413.8,245.0 397.5,240.0 387.5,238.8Z" fill="url(#hatch)"/>
<path d="M385.0,217.5 387.5,215.0 395.0,216.2 402.5,218.8 410.0,216.2 417.5,218.8 418.8,247.5 413.8,245.0 397.5,240.0 387.5,238.8 385.0,217.5" class="bdn"/>
<path d="M417.5,218.8 427.5,220.0 437.5,221.2 440.0,222.5 440.0,245.0 418.8,245.0Z" fill="#fee391" stroke="#fee391" stroke-width="1.2" stroke-linejoin="round"/>
<path d="M417.5,218.8 427.5,220.0 437.5,221.2 440.0,222.5M440.0,245.0 418.8,245.0 417.5,218.8" class="bd"/>
<path d="M404.7,132.5 406.9,135.7 402.5,141.1 400.4,146.6 404.7,148.7 414.5,146.6 415.5,149.4 405.8,150.9 404.7,155.2 401.5,159.6 395.0,160.6 388.5,158.5 387.4,154.1 392.8,152.0 395.0,145.5 398.2,139.0 401.5,134.6Z" fill="#fff"/>
<path d="M422.0,184.5 427.5,180.1 436.1,179.0 442.6,182.3 450.2,186.6 449.1,192.0 440.4,193.1 429.6,191.0 423.1,188.8Z" fill="#fff"/>
<path d="M385.2,173.6 390.6,175.8 397.1,182.3 401.5,188.8 399.3,191.0 392.8,186.6 387.4,180.1Z" fill="#fff"/>
<path d="M413.4,195.3 417.7,193.1 419.9,197.5 416.6,203.9 413.4,201.8Z" fill="#fff"/>
<path d="M401.5,201.8 416.6,203.9 431.8,206.1 440.4,206.1 440.4,214.8 429.6,219.1 416.6,218.0 401.5,212.6Z" fill="#fff"/>
<path d="M420.0,170.0 520.0,170.0 520.0,207.5 495.0,207.5 472.5,207.5 457.5,207.5 420.0,207.5Z" fill="#ec7014" stroke="#ec7014" stroke-width="1.2" stroke-linejoin="round"/>
<path d="M421.2,188.8 425.0,182.5 427.5,180.6 431.2,181.9 435.0,183.8 438.8,183.8 445.0,186.2 450.0,190.0 448.8,193.1 441.2,193.8 432.5,192.5 425.0,193.1 422.5,192.5Z" fill="#fff"/>
<path d="M435.0,179.4 440.0,178.8 440.6,181.9 436.2,182.5Z" fill="#fff"/>
<path d="M461.2,182.5 466.2,179.4 471.2,180.0 470.6,183.8 467.5,186.2 472.5,191.2 475.0,195.0 473.8,198.8 472.5,202.5 470.0,205.0 468.8,200.0 463.8,193.8 460.0,187.5Z" fill="#fff"/>
<path d="M448.8,188.8 457.5,190.0 462.5,193.8 467.5,196.2 465.0,198.8 457.5,198.8 455.0,195.0 450.0,191.2Z" fill="#fe9929" stroke="#fe9929" stroke-width="1.2" stroke-linejoin="round"/>
<path d="M448.8,188.8 457.5,190.0 462.5,193.8 467.5,196.2 465.0,198.8 457.5,198.8 455.0,195.0 450.0,191.2 448.8,188.8" class="bd"/>
<path d="M420.0,207.5 432.5,206.9 440.0,207.5 441.2,212.5 440.0,220.0 420.0,220.0Z" fill="#fff"/>
<path d="M420.0,195.0 425.0,193.1 432.5,192.5 441.2,193.8 448.8,193.1 455.0,195.0 457.5,198.8 455.0,203.8 445.0,205.0 440.0,206.2 432.5,206.2 425.0,206.2 420.0,207.5Z" fill="#ec7014" stroke="#ec7014" stroke-width="1.2" stroke-linejoin="round"/>
<path d="M420.0,195.0 425.0,193.1 432.5,192.5 441.2,193.8 448.8,193.1 455.0,195.0 457.5,198.8 455.0,203.8 445.0,205.0 440.0,206.2 432.5,206.2 425.0,206.2 420.0,207.5" class="bd"/>
<path d="M432.5,208.8 436.2,208.1 435.0,210.6Z" fill="#cc4c02" stroke="#cc4c02" stroke-width="1.2" stroke-linejoin="round"/>
<path d="M432.5,208.8 436.2,208.1 435.0,210.6 432.5,208.8" class="bd"/>
<path d="M441.2,207.5 452.5,205.0 451.2,211.2 445.0,215.0 441.2,212.5Z" fill="url(#hatch)"/>
<path d="M441.2,207.5 452.5,205.0 451.2,211.2 445.0,215.0 441.2,212.5 441.2,207.5" class="bdn"/>
<path d="M439.4,212.5 441.9,212.5 441.2,220.0 440.0,222.5Z" fill="#ec7014" stroke="#ec7014" stroke-width="1.2" stroke-linejoin="round"/>
<path d="M439.4,212.5 441.9,212.5 441.2,220.0 440.0,222.5 439.4,212.5" class="bd"/>
<path d="M441.2,215.0 446.2,213.8 450.0,217.5 445.0,220.0 441.2,220.0Z" fill="#fe9929" stroke="#fe9929" stroke-width="1.2" stroke-linejoin="round"/>
<path d="M441.2,215.0 446.2,213.8 450.0,217.5 445.0,220.0 441.2,220.0 441.2,215.0" class="bd"/>
<path d="M448.8,205.0 457.5,203.8 458.8,200.0 461.2,207.5 467.5,213.8 468.8,220.0 466.2,222.5 461.2,225.0 452.5,220.0 447.5,218.8 445.0,215.0 451.2,211.2Z" fill="#fe9929" stroke="#fe9929" stroke-width="1.2" stroke-linejoin="round"/>
<path d="M448.8,205.0 457.5,203.8 458.8,200.0 461.2,207.5 467.5,213.8 468.8,220.0 466.2,222.5 461.2,225.0 452.5,220.0 447.5,218.8 445.0,215.0 451.2,211.2 448.8,205.0" class="bd"/>
<path d="M457.5,198.8 465.0,198.8 468.8,201.2 473.8,202.5 480.0,203.8 486.2,201.2 495.0,201.2 497.5,207.5 498.8,222.5 501.2,228.8 503.8,232.5 495.0,235.0 487.5,232.5 480.0,228.8 472.5,223.8 470.0,220.0 467.5,213.8 461.2,207.5 458.8,200.0Z" fill="#fec44f" stroke="#fec44f" stroke-width="1.2" stroke-linejoin="round"/>
<path d="M457.5,198.8 465.0,198.8 468.8,201.2 473.8,202.5 480.0,203.8 486.2,201.2 495.0,201.2 497.5,207.5 498.8,222.5 501.2,228.8 503.8,232.5 495.0,235.0 487.5,232.5 480.0,228.8 472.5,223.8 470.0,220.0 467.5,213.8 461.2,207.5 458.8,200.0 457.5,198.8" class="bd"/>
<path d="M473.8,191.2 477.5,192.5 482.5,191.2 490.0,193.8 497.5,197.5 505.0,202.5 497.5,207.5 495.0,201.2 486.2,201.2 480.0,203.8 473.8,202.5 475.0,195.0Z" fill="url(#hatch)"/>
<path d="M473.8,191.2 477.5,192.5 482.5,191.2 490.0,193.8 497.5,197.5 505.0,202.5 497.5,207.5 495.0,201.2 486.2,201.2 480.0,203.8 473.8,202.5 475.0,195.0 473.8,191.2" class="bdn"/>
<path d="M495.0,207.5 505.0,202.5 512.5,202.5 518.8,200.0 518.8,210.0 515.0,218.8 507.5,222.5 498.8,222.5 497.5,207.5Z" fill="#fff7bc" stroke="#fff7bc" stroke-width="1.2" stroke-linejoin="round"/>
<path d="M495.0,207.5 505.0,202.5 512.5,202.5 518.8,200.0 518.8,210.0 515.0,218.8 507.5,222.5 498.8,222.5 497.5,207.5 495.0,207.5" class="bd"/>
<path d="M507.5,222.5 515.0,218.8 520.0,217.5 520.0,245.0 505.0,235.0 501.2,228.8 498.8,222.5Z" fill="#fe9929" stroke="#fe9929" stroke-width="1.2" stroke-linejoin="round"/>
<path d="M507.5,222.5 515.0,218.8 520.0,217.5M520.0,245.0 505.0,235.0 501.2,228.8 498.8,222.5 507.5,222.5" class="bd"/>
<path d="M510.0,190.0 520.0,188.8 520.0,198.8 512.5,198.8 507.5,197.5Z" fill="#fe9929" stroke="#fe9929" stroke-width="1.2" stroke-linejoin="round"/>
<path d="M510.0,190.0 520.0,188.8M520.0,198.8 512.5,198.8 507.5,197.5 510.0,190.0" class="bd"/>
<path d="M440.0,225.0 446.2,218.8 452.5,220.0 461.2,225.0 466.2,222.5 470.0,226.2 475.0,233.8 478.8,237.5 480.0,245.0 450.0,245.0 445.0,235.0Z" fill="#7f2c05" stroke="#7f2c05" stroke-width="1.2" stroke-linejoin="round"/>
<path d="M440.0,225.0 446.2,218.8 452.5,220.0 461.2,225.0 466.2,222.5 470.0,226.2 475.0,233.8 478.8,237.5 480.0,245.0M450.0,245.0 445.0,235.0 440.0,225.0" class="bd"/>
<path d="M468.8,220.0 472.5,223.8 480.0,228.8 487.5,232.5 495.0,235.0 493.8,240.0 487.5,238.8 482.5,235.0 477.5,237.5 473.8,232.5 470.0,226.2Z" fill="#fff"/>
<path d="M477.5,237.5 482.5,235.0 487.5,238.8 488.8,245.0 480.0,245.0Z" fill="#cc4c02" stroke="#cc4c02" stroke-width="1.2" stroke-linejoin="round"/>
<path d="M477.5,237.5 482.5,235.0 487.5,238.8 488.8,245.0M480.0,245.0 477.5,237.5" class="bd"/>
<path d="M487.5,238.8 493.8,240.0 497.5,245.0 488.8,245.0Z" fill="#993404" stroke="#993404" stroke-width="1.2" stroke-linejoin="round"/>
<path d="M487.5,238.8 493.8,240.0 497.5,245.0M488.8,245.0 487.5,238.8" class="bd"/>
<path d="M433.8,222.5 440.0,225.0 445.0,235.0 450.0,245.0 443.8,245.0 438.8,233.8Z" fill="#fff"/>
<path d="M420.0,220.0 440.0,220.0 440.0,222.5 433.8,222.5 438.8,233.8 443.8,245.0 420.0,245.0Z" fill="#fee391" stroke="#fee391" stroke-width="1.2" stroke-linejoin="round"/>
<path d="M420.0,220.0 440.0,220.0 440.0,222.5 433.8,222.5 438.8,233.8 443.8,245.0" class="bd"/>
<path d="M638.0,190.2 642.5,189.5 644.8,186.5 646.2,181.2 646.2,174.5 644.8,170.0 680.0,170.0 680.0,215.0 648.5,215.0 642.5,213.5 644.8,209.0 641.0,203.0 637.2,200.0 638.0,195.5Z" fill="#fff"/>
<path d="M620.0,170.0 644.0,170.0 646.2,174.5 646.2,181.2 644.8,186.5 642.5,189.5 638.0,190.2 636.5,188.8 635.8,185.0 638.0,183.5 636.5,178.2 635.0,175.2 627.5,174.5 620.0,172.2Z" fill="#ec7014" stroke="#ec7014" stroke-width="1.2" stroke-linejoin="round"/>
<path d="M644.0,170.0 646.2,174.5 646.2,181.2 644.8,186.5 642.5,189.5 638.0,190.2 636.5,188.8 635.8,185.0 638.0,183.5 636.5,178.2 635.0,175.2 627.5,174.5 620.0,172.2" class="bd"/>
<path d="M620.0,172.2 627.5,174.5 635.0,175.2 636.5,178.2 638.0,183.5 635.8,185.0 636.5,188.8 632.8,193.2 627.5,197.0 623.0,199.2 620.0,196.2Z" fill="#993404" stroke="#993404" stroke-width="1.2" stroke-linejoin="round"/>
<path d="M620.0,172.2 627.5,174.5 635.0,175.2 636.5,178.2 638.0,183.5 635.8,185.0 636.5,188.8 632.8,193.2 627.5,197.0 623.0,199.2 620.0,196.2" class="bd"/>
<path d="M628.2,197.0 632.8,193.2 636.5,189.5 638.0,192.5 637.2,195.5 635.0,200.0 631.2,202.2 629.0,200.8Z" fill="url(#hatch)"/>
<path d="M628.2,197.0 632.8,193.2 636.5,189.5 638.0,192.5 637.2,195.5 635.0,200.0 631.2,202.2 629.0,200.8 628.2,197.0" class="bdn"/>
<path d="M634.2,202.2 637.2,200.8 640.2,203.0 642.5,206.0 644.0,209.0 641.8,211.2 638.8,210.9 635.8,207.5Z" fill="#cc4c02" stroke="#cc4c02" stroke-width="1.2" stroke-linejoin="round"/>
<path d="M634.2,202.2 637.2,200.8 640.2,203.0 642.5,206.0 644.0,209.0 641.8,211.2 638.8,210.9 635.8,207.5 634.2,202.2" class="bd"/>
<path d="M647.0,170.0 652.2,171.5 653.8,174.5 653.0,177.5 656.8,180.5 655.2,181.2 652.2,178.2 649.2,174.5Z" fill="#ec7014" stroke="#ec7014" stroke-width="1.2" stroke-linejoin="round"/>
<path d="M647.0,170.0 652.2,171.5 653.8,174.5 653.0,177.5 656.8,180.5 655.2,181.2 652.2,178.2 649.2,174.5 647.0,170.0" class="bd"/>
<path d="M655.2,182.8 659.0,184.6 662.0,185.8 665.0,185.8 666.9,188.0 663.5,189.5 662.0,191.0 659.8,192.5 656.8,189.5 656.0,186.5Z" fill="#993404" stroke="#993404" stroke-width="1.2" stroke-linejoin="round"/>
<path d="M655.2,182.8 659.0,184.6 662.0,185.8 665.0,185.8 666.9,188.0 663.5,189.5 662.0,191.0 659.8,192.5 656.8,189.5 656.0,186.5 655.2,182.8" class="bd"/>
<path d="M659.8,193.2 662.0,194.8 665.0,197.8 665.8,202.2 667.2,206.0 668.0,209.0 665.0,211.2 661.2,212.8 657.5,213.5 653.0,214.2 648.5,215.0 647.0,214.2 651.5,210.5 656.8,208.2 659.0,205.2 660.5,202.2 660.5,198.5 659.0,195.5Z" fill="#993404" stroke="#993404" stroke-width="1.2" stroke-linejoin="round"/>
<path d="M659.8,193.2 662.0,194.8 665.0,197.8 665.8,202.2 667.2,206.0 668.0,209.0 665.0,211.2 661.2,212.8 657.5,213.5 653.0,214.2 648.5,215.0 647.0,214.2 651.5,210.5 656.8,208.2 659.0,205.2 660.5,202.2 660.5,198.5 659.0,195.5 659.8,193.2" class="bd"/>
<path d="M615.0,199.4 620.0,195.6 624.4,196.2 626.9,200.0 623.1,203.8 618.8,203.1Z" fill="#fff"/>
<path d="M325.0,245.0 325.0,250.0 325.6,257.5 323.8,261.2 325.0,265.0 325.0,270.6 331.2,272.5 333.8,280.0 341.2,285.0 345.0,287.5 346.2,288.8 356.2,287.5 365.0,285.0 375.0,288.8 382.5,287.5 385.0,290.0 383.8,295.0 385.0,300.0 418.8,300.0 418.8,232.5 335.0,232.5 327.5,240.0Z" fill="#fe9929" stroke="#fe9929" stroke-width="1.2" stroke-linejoin="round"/>
<path d="M325.0,245.0 327.5,240.0 332.5,232.5 336.2,228.8 343.8,228.8 343.8,232.5 336.2,233.8 333.8,241.2 332.5,245.0Z" fill="url(#hatch)"/>
<path d="M325.0,245.0 327.5,240.0 332.5,232.5 336.2,228.8 343.8,228.8 343.8,232.5 336.2,233.8 333.8,241.2 332.5,245.0 325.0,245.0" class="bdn"/>
<path d="M335.0,225.0 343.8,225.0 343.8,228.8 336.2,228.8Z" fill="#ec7014" stroke="#ec7014" stroke-width="1.2" stroke-linejoin="round"/>
<path d="M343.8,225.0 343.8,228.8 336.2,228.8 335.0,225.0" class="bd"/>
<path d="M343.8,225.0 385.0,225.0 385.0,236.2 390.0,240.0 372.5,251.2 361.2,245.0 351.2,238.8 348.8,236.2 343.8,232.5Z" fill="#ec7014" stroke="#ec7014" stroke-width="1.2" stroke-linejoin="round"/>
<path d="M385.0,225.0 385.0,236.2 390.0,240.0 372.5,251.2 361.2,245.0 351.2,238.8 348.8,236.2 343.8,232.5 343.8,225.0" class="bd"/>
<path d="M385.0,225.0 420.0,225.0 420.0,248.8 413.8,246.2 397.5,240.0 390.0,240.0 385.0,236.2Z" fill="url(#hatch)"/>
<path d="M420.0,248.8 413.8,246.2 397.5,240.0 390.0,240.0 385.0,236.2 385.0,225.0" class="bdn"/>
<path d="M325.0,245.0 332.5,245.0 333.8,241.2 336.2,233.8 343.8,232.5 348.8,236.2 350.0,261.2 335.0,261.2 331.2,258.8 325.6,257.5 325.0,250.0Z" fill="#fe9929" stroke="#fe9929" stroke-width="1.2" stroke-linejoin="round"/>
<path d="M325.0,245.0 332.5,245.0 333.8,241.2 336.2,233.8 343.8,232.5 348.8,236.2 350.0,261.2 335.0,261.2 331.2,258.8 325.6,257.5 325.0,250.0 325.0,245.0" class="bd"/>
<path d="M348.8,236.2 351.2,238.8 361.2,245.0 372.5,251.2 372.5,260.0 363.8,262.5 356.2,263.8 351.2,268.8 348.8,273.8 342.5,268.8 337.5,266.2 335.0,261.2 350.0,261.2Z" fill="#fe9929" stroke="#fe9929" stroke-width="1.2" stroke-linejoin="round"/>
<path d="M348.8,236.2 351.2,238.8 361.2,245.0 372.5,251.2 372.5,260.0 363.8,262.5 356.2,263.8 351.2,268.8 348.8,273.8 342.5,268.8 337.5,266.2 335.0,261.2 350.0,261.2 348.8,236.2" class="bd"/>
<path d="M372.5,251.2 390.0,240.0 397.5,240.0 397.5,250.0 396.2,265.0 385.0,266.2 373.8,265.0 367.5,267.5 363.8,262.5 372.5,260.0Z" fill="#ec7014" stroke="#ec7014" stroke-width="1.2" stroke-linejoin="round"/>
<path d="M372.5,251.2 390.0,240.0 397.5,240.0 397.5,250.0 396.2,265.0 385.0,266.2 373.8,265.0 367.5,267.5 363.8,262.5 372.5,260.0 372.5,251.2" class="bd"/>
<path d="M397.5,240.0 413.8,246.2 418.8,248.8 418.8,272.5 407.5,277.5 398.8,280.0 395.0,271.2 396.2,265.0 397.5,250.0Z" fill="#fec44f" stroke="#fec44f" stroke-width="1.2" stroke-linejoin="round"/>
<path d="M397.5,240.0 413.8,246.2 418.8,248.8 418.8,272.5 407.5,277.5 398.8,280.0 395.0,271.2 396.2,265.0 397.5,250.0 397.5,240.0" class="bd"/>
<path d="M418.8,248.8 420.0,248.8 420.0,272.5 418.8,272.5Z" fill="#fe9929" stroke="#fe9929" stroke-width="1.2" stroke-linejoin="round"/>
<path d="M418.8,248.8 420.0,248.8M420.0,272.5 418.8,272.5 418.8,248.8" class="bd"/>
<path d="M398.8,280.0 407.5,277.5 418.8,272.5 420.0,272.5 420.0,300.0 405.0,295.0 397.5,286.2Z" fill="#fee391" stroke="#fee391" stroke-width="1.2" stroke-linejoin="round"/>
<path d="M398.8,280.0 407.5,277.5 418.8,272.5 420.0,272.5M420.0,300.0 405.0,295.0 397.5,286.2 398.8,280.0" class="bd"/>
<path d="M323.8,261.2 330.0,258.1 333.8,261.2 336.2,266.2 333.8,267.5 325.0,265.0Z" fill="#ec7014" stroke="#ec7014" stroke-width="1.2" stroke-linejoin="round"/>
<path d="M323.8,261.2 330.0,258.1 333.8,261.2 336.2,266.2 333.8,267.5 325.0,265.0 323.8,261.2" class="bd"/>
<path d="M325.0,267.5 331.2,268.1 330.0,271.2 326.2,270.6Z" fill="#fec44f" stroke="#fec44f" stroke-width="1.2" stroke-linejoin="round"/>
<path d="M325.0,267.5 331.2,268.1 330.0,271.2 326.2,270.6 325.0,267.5" class="bd"/>
<path d="M330.0,268.8 337.5,267.5 342.5,270.0 343.8,275.0 342.5,280.0 338.8,278.8 335.0,275.0 331.2,272.5Z" fill="#ec7014" stroke="#ec7014" stroke-width="1.2" stroke-linejoin="round"/>
<path d="M330.0,268.8 337.5,267.5 342.5,270.0 343.8,275.0 342.5,280.0 338.8,278.8 335.0,275.0 331.2,272.5 330.0,268.8" class="bd"/>
<path d="M332.5,276.2 336.2,275.0 338.8,278.8 337.5,281.2 333.8,280.0Z" fill="#fee391" stroke="#fee391" stroke-width="1.2" stroke-linejoin="round"/>
<path d="M332.5,276.2 336.2,275.0 338.8,278.8 337.5,281.2 333.8,280.0 332.5,276.2" class="bd"/>
<path d="M337.5,280.0 341.2,278.8 345.0,283.8 345.0,287.5 341.2,285.0Z" fill="#fec44f" stroke="#fec44f" stroke-width="1.2" stroke-linejoin="round"/>
<path d="M337.5,280.0 341.2,278.8 345.0,283.8 345.0,287.5 341.2,285.0 337.5,280.0" class="bd"/>
<path d="M342.5,275.0 351.2,275.0 356.2,273.8 356.2,287.5 346.2,288.8 345.0,283.8 342.5,280.0Z" fill="#ec7014" stroke="#ec7014" stroke-width="1.2" stroke-linejoin="round"/>
<path d="M342.5,275.0 351.2,275.0 356.2,273.8 356.2,287.5 346.2,288.8 345.0,283.8 342.5,280.0 342.5,275.0" class="bd"/>
<path d="M348.8,273.8 351.2,268.8 356.2,263.8 363.8,262.5 367.5,267.5 366.2,271.2 358.8,272.5 356.2,273.8 351.2,275.0Z" fill="#ec7014" stroke="#ec7014" stroke-width="1.2" stroke-linejoin="round"/>
<path d="M348.8,273.8 351.2,268.8 356.2,263.8 363.8,262.5 367.5,267.5 366.2,271.2 358.8,272.5 356.2,273.8 351.2,275.0 348.8,273.8" class="bd"/>
<path d="M356.2,273.8 363.8,272.5 365.0,285.0 358.8,286.2 356.2,287.5Z" fill="#fe9929" stroke="#fe9929" stroke-width="1.2" stroke-linejoin="round"/>
<path d="M356.2,273.8 363.8,272.5 365.0,285.0 358.8,286.2 356.2,287.5 356.2,273.8" class="bd"/>
<path d="M363.8,273.1 366.2,272.5 366.9,283.8 365.0,285.0Z" fill="#fec44f" stroke="#fec44f" stroke-width="1.2" stroke-linejoin="round"/>
<path d="M363.8,273.1 366.2,272.5 366.9,283.8 365.0,285.0 363.8,273.1" class="bd"/>
<path d="M366.2,271.2 370.0,270.0 371.2,272.5 370.0,283.8 366.9,283.8Z" fill="#fec44f" stroke="#fec44f" stroke-width="1.2" stroke-linejoin="round"/>
<path d="M366.2,271.2 370.0,270.0 371.2,272.5 370.0,283.8 366.9,283.8 366.2,271.2" class="bd"/>
<path d="M370.0,270.0 373.8,265.0 385.0,266.2 396.2,265.0 395.0,271.2 392.5,275.0 387.5,283.8 382.5,287.5 375.0,288.8 371.2,285.0Z" fill="#fe9929" stroke="#fe9929" stroke-width="1.2" stroke-linejoin="round"/>
<path d="M370.0,270.0 373.8,265.0 385.0,266.2 396.2,265.0 395.0,271.2 392.5,275.0 387.5,283.8 382.5,287.5 375.0,288.8 371.2,285.0 370.0,270.0" class="bd"/>
<path d="M395.0,271.2 398.8,280.0 397.5,286.2 405.0,295.0 402.5,297.5 392.5,296.2 385.0,297.5 385.0,290.0 387.5,283.8 392.5,275.0Z" fill="#ec7014" stroke="#ec7014" stroke-width="1.2" stroke-linejoin="round"/>
<path d="M395.0,271.2 398.8,280.0 397.5,286.2 405.0,295.0 402.5,297.5 392.5,296.2 385.0,297.5 385.0,290.0 387.5,283.8 392.5,275.0 395.0,271.2" class="bd"/>
<path d="M385.0,295.6 388.1,295.6 388.1,297.5 385.0,297.5Z" fill="#662506" stroke="#662506" stroke-width="1.2" stroke-linejoin="round"/>
<path d="M385.0,295.6 388.1,295.6 388.1,297.5 385.0,297.5 385.0,295.6" class="bd"/>
<path d="M400.0,225.0 418.8,225.0 418.8,248.8 412.5,247.5 400.0,241.2Z" fill="url(#hatch)"/>
<path d="M418.8,225.0 418.8,248.8 412.5,247.5 400.0,241.2" class="bdn"/>
<path d="M418.8,225.0 437.5,225.0 440.0,231.2 445.0,243.8 418.8,243.8Z" fill="#fee391" stroke="#fee391" stroke-width="1.2" stroke-linejoin="round"/>
<path d="M437.5,225.0 440.0,231.2 445.0,243.8 418.8,243.8 418.8,225.0" class="bd"/>
<path d="M400.0,241.2 412.5,247.5 417.5,248.8 416.2,261.2 413.8,265.0 416.2,272.5 412.5,278.8 406.2,280.0 400.0,281.2Z" fill="#fec44f" stroke="#fec44f" stroke-width="1.2" stroke-linejoin="round"/>
<path d="M400.0,241.2 412.5,247.5 417.5,248.8 416.2,261.2 413.8,265.0 416.2,272.5 412.5,278.8 406.2,280.0 400.0,281.2" class="bd"/>
<path d="M417.5,244.4 445.0,244.4 446.2,250.0 448.8,255.0 446.2,262.5 445.0,270.0 440.0,273.8 437.5,270.0 433.8,275.0 428.8,276.2 423.8,273.8 418.8,277.5 416.2,272.5 413.8,265.0 416.2,261.2Z" fill="#fe9929" stroke="#fe9929" stroke-width="1.2" stroke-linejoin="round"/>
<path d="M417.5,244.4 445.0,244.4 446.2,250.0 448.8,255.0 446.2,262.5 445.0,270.0 440.0,273.8 437.5,270.0 433.8,275.0 428.8,276.2 423.8,273.8 418.8,277.5 416.2,272.5 413.8,265.0 416.2,261.2 417.5,244.4" class="bd"/>
<path d="M446.2,250.0 450.0,255.0 455.0,261.2 460.0,266.2 453.8,265.0 448.8,262.5 446.2,262.5Z" fill="url(#hatch)"/>
<path d="M446.2,250.0 450.0,255.0 455.0,261.2 460.0,266.2 453.8,265.0 448.8,262.5 446.2,262.5 446.2,250.0" class="bdn"/>
<path d="M446.2,262.5 448.8,262.5 453.8,265.0 460.0,266.2 462.5,272.5 472.5,281.2 466.2,286.2 457.5,290.0 450.0,291.2 442.5,286.2 440.0,280.0 437.5,270.0 440.0,273.8 445.0,270.0Z" fill="#fec44f" stroke="#fec44f" stroke-width="1.2" stroke-linejoin="round"/>
<path d="M446.2,262.5 448.8,262.5 453.8,265.0 460.0,266.2 462.5,272.5 472.5,281.2 466.2,286.2 457.5,290.0 450.0,291.2 442.5,286.2 440.0,280.0 437.5,270.0 440.0,273.8 445.0,270.0 446.2,262.5" class="bd"/>
<path d="M462.5,268.8 480.0,270.0 475.0,281.2 467.5,290.0 458.8,300.0 457.5,292.5 466.2,286.2 472.5,281.2Z" fill="url(#hatch)"/>
<path d="M462.5,268.8 480.0,270.0 475.0,281.2 467.5,290.0 458.8,300.0 457.5,292.5 466.2,286.2 472.5,281.2 462.5,268.8" class="bdn"/>
<path d="M418.8,277.5 423.8,273.8 428.8,276.2 433.8,275.0 437.5,270.0 440.0,280.0 442.5,286.2 440.0,291.2 433.8,291.2 425.0,287.5 420.0,282.5Z" fill="#fee391" stroke="#fee391" stroke-width="1.2" stroke-linejoin="round"/>
<path d="M418.8,277.5 423.8,273.8 428.8,276.2 433.8,275.0 437.5,270.0 440.0,280.0 442.5,286.2 440.0,291.2 433.8,291.2 425.0,287.5 420.0,282.5 418.8,277.5" class="bd"/>
<path d="M400.0,281.2 406.2,280.0 412.5,278.8 416.2,272.5 418.8,277.5 420.0,282.5 425.0,287.5 412.5,290.0 400.0,290.0Z" fill="#fee391" stroke="#fee391" stroke-width="1.2" stroke-linejoin="round"/>
<path d="M400.0,281.2 406.2,280.0 412.5,278.8 416.2,272.5 418.8,277.5 420.0,282.5 425.0,287.5 412.5,290.0 400.0,290.0" class="bd"/>
<path d="M405.0,290.0 425.0,287.5 433.8,291.2 432.5,300.0 405.0,300.0Z" fill="#fee391" stroke="#fee391" stroke-width="1.2" stroke-linejoin="round"/>
<path d="M405.0,290.0 425.0,287.5 433.8,291.2 432.5,300.0M405.0,300.0 405.0,290.0" class="bd"/>
<path d="M433.8,291.2 442.5,287.5 443.8,300.0 432.5,300.0Z" fill="#ec7014" stroke="#ec7014" stroke-width="1.2" stroke-linejoin="round"/>
<path d="M433.8,291.2 442.5,287.5 443.8,300.0M432.5,300.0 433.8,291.2" class="bd"/>
<path d="M442.5,287.5 450.0,291.2 457.5,290.0 458.8,300.0 443.8,300.0Z" fill="#ec7014" stroke="#ec7014" stroke-width="1.2" stroke-linejoin="round"/>
<path d="M442.5,287.5 450.0,291.2 457.5,290.0 458.8,300.0M443.8,300.0 442.5,287.5" class="bd"/>
<path d="M437.5,225.0 441.2,227.5 447.5,240.0 452.5,250.0 458.8,261.2 461.2,266.2 455.0,261.2 450.0,255.0 446.2,250.0 445.0,243.8 440.0,231.2Z" fill="#fff"/>
<path d="M440.0,225.0 470.0,225.0 475.0,232.5 480.0,238.8 487.5,245.0 482.5,251.2 475.0,252.5 462.5,256.2 460.0,257.5 455.0,250.0 448.8,240.0 443.8,230.0Z" fill="#7f2c05" stroke="#7f2c05" stroke-width="1.2" stroke-linejoin="round"/>
<path d="M470.0,225.0 475.0,232.5 480.0,238.8 487.5,245.0 482.5,251.2 475.0,252.5 462.5,256.2 460.0,257.5 455.0,250.0 448.8,240.0 443.8,230.0 440.0,225.0" class="bd"/>
<path d="M460.0,257.5 462.5,256.2 475.0,252.5 482.5,251.2 485.0,255.0 481.2,260.0 475.0,262.5 465.0,266.2 461.2,266.2Z" fill="url(#hatch)"/>
<path d="M460.0,257.5 462.5,256.2 475.0,252.5 482.5,251.2 485.0,255.0 481.2,260.0 475.0,262.5 465.0,266.2 461.2,266.2 460.0,257.5" class="bdn"/>
<path d="M487.5,236.2 495.0,238.8 497.5,243.8 492.5,250.0 485.0,257.5 482.5,251.2 487.5,245.0Z" fill="#993404" stroke="#993404" stroke-width="1.2" stroke-linejoin="round"/>
<path d="M487.5,236.2 495.0,238.8 497.5,243.8 492.5,250.0 485.0,257.5 482.5,251.2 487.5,245.0 487.5,236.2" class="bd"/>
<path d="M470.0,225.0 477.5,225.0 487.5,233.8 487.5,236.2 487.5,245.0 480.0,238.8 475.0,232.5Z" fill="#fff"/>
<path d="M477.5,225.0 500.0,225.0 500.0,233.8 492.5,232.5 487.5,230.0Z" fill="#fec44f" stroke="#fec44f" stroke-width="1.2" stroke-linejoin="round"/>
<path d="M500.0,233.8 492.5,232.5 487.5,230.0 477.5,225.0" class="bd"/>
<path d="M9.0,248.5 11.5,249.0 12.0,251.0 10.0,252.5 9.0,251.0Z" fill="#662506" stroke="#662506" stroke-width="1.2" stroke-linejoin="round"/>
<path d="M9.0,248.5 11.5,249.0 12.0,251.0 10.0,252.5 9.0,251.0 9.0,248.5" class="bd"/>
<path d="M5.0,244.5 7.5,245.5 9.0,247.5 8.0,248.0 5.5,246.5Z" fill="#662506" stroke="#662506" stroke-width="1.2" stroke-linejoin="round"/>
<path d="M5.0,244.5 7.5,245.5 9.0,247.5 8.0,248.0 5.5,246.5 5.0,244.5" class="bd"/>
<path d="M2.0,243.0 3.5,243.0 3.5,244.5 2.0,244.5Z" fill="#662506" stroke="#662506" stroke-width="1.2" stroke-linejoin="round"/>
<path d="M2.0,243.0 3.5,243.0 3.5,244.5 2.0,244.5 2.0,243.0" class="bd"/>
<path d="M767.0,343.0 771.0,342.0 772.0,345.0 768.0,347.0Z" fill="#ec7014" stroke="#ec7014" stroke-width="1.2" stroke-linejoin="round"/>
<path d="M767.0,343.0 771.0,342.0 772.0,345.0 768.0,347.0 767.0,343.0" class="bd"/>
<path d="M713.0,319.0 717.0,320.0 716.0,322.0Z" fill="#ec7014" stroke="#ec7014" stroke-width="1.2" stroke-linejoin="round"/>
<path d="M713.0,319.0 717.0,320.0 716.0,322.0 713.0,319.0" class="bd"/>
<path d="M380.5,165.5 459.5,165.5 459.5,224.5 380.5,224.5Z" fill="#fff"/>
<path d="M380.0,165.0 392.0,165.0 393.0,170.0 388.0,169.0 388.0,175.0 390.0,179.0 384.0,178.0 380.0,180.0Z" fill="#7f2c05" stroke="#7f2c05" stroke-width="1.2" stroke-linejoin="round"/>
<path d="M392.0,165.0 393.0,170.0 388.0,169.0 388.0,175.0 390.0,179.0 384.0,178.0 380.0,180.0" class="bd"/>
<path d="M409.0,165.0 460.0,165.0 460.0,175.0 444.0,178.0 436.0,180.0 434.0,184.0 425.0,182.0 423.0,175.0 418.0,171.0 409.0,170.0Z" fill="#ec7014" stroke="#ec7014" stroke-width="1.2" stroke-linejoin="round"/>
<path d="M460.0,175.0 444.0,178.0 436.0,180.0 434.0,184.0 425.0,182.0 423.0,175.0 418.0,171.0 409.0,170.0 409.0,165.0" class="bd"/>
<path d="M444.0,175.0 460.0,175.0 460.0,190.0 450.0,190.0 448.0,186.0 444.0,183.0 440.0,182.0 441.0,178.0Z" fill="#ec7014" stroke="#ec7014" stroke-width="1.2" stroke-linejoin="round"/>
<path d="M444.0,175.0 460.0,175.0M460.0,190.0 450.0,190.0 448.0,186.0 444.0,183.0 440.0,182.0 441.0,178.0 444.0,175.0" class="bd"/>
<path d="M380.0,180.0 384.0,178.0 389.0,181.0 390.0,185.0 393.0,189.0 397.0,193.0 401.0,196.0 400.0,198.0 398.0,197.0 397.0,200.0 395.0,199.0 394.0,195.0 390.0,191.0 386.0,187.0 382.0,186.0 380.0,186.0Z" fill="#7f2c05" stroke="#7f2c05" stroke-width="1.2" stroke-linejoin="round"/>
<path d="M380.0,180.0 384.0,178.0 389.0,181.0 390.0,185.0 393.0,189.0 397.0,193.0 401.0,196.0 400.0,198.0 398.0,197.0 397.0,200.0 395.0,199.0 394.0,195.0 390.0,191.0 386.0,187.0 382.0,186.0 380.0,186.0" class="bd"/>
<path d="M390.0,202.0 395.0,201.5 396.0,204.0 392.0,204.5Z" fill="#7f2c05" stroke="#7f2c05" stroke-width="1.2" stroke-linejoin="round"/>
<path d="M390.0,202.0 395.0,201.5 396.0,204.0 392.0,204.5 390.0,202.0" class="bd"/>
<path d="M381.0,189.0 383.0,189.0 383.5,199.0 381.0,199.0Z" fill="#7f2c05" stroke="#7f2c05" stroke-width="1.2" stroke-linejoin="round"/>
<path d="M381.0,189.0 383.0,189.0 383.5,199.0 381.0,199.0 381.0,189.0" class="bd"/>
<path d="M388.0,169.0 399.0,171.0 400.0,174.0 395.0,176.0 388.0,175.0Z" fill="#993404" stroke="#993404" stroke-width="1.2" stroke-linejoin="round"/>
<path d="M388.0,169.0 399.0,171.0 400.0,174.0 395.0,176.0 388.0,175.0 388.0,169.0" class="bd"/>
<path d="M392.0,165.0 408.0,165.0 409.0,170.0 400.0,171.0 393.0,170.0Z" fill="#993404" stroke="#993404" stroke-width="1.2" stroke-linejoin="round"/>
<path d="M408.0,165.0 409.0,170.0 400.0,171.0 393.0,170.0 392.0,165.0" class="bd"/>
<path d="M400.0,171.0 409.0,170.0 409.0,174.0 403.0,175.0Z" fill="#cc4c02" stroke="#cc4c02" stroke-width="1.2" stroke-linejoin="round"/>
<path d="M400.0,171.0 409.0,170.0 409.0,174.0 403.0,175.0 400.0,171.0" class="bd"/>
<path d="M396.0,176.0 403.0,175.0 409.0,174.0 408.0,179.0 400.0,181.0 396.0,179.0Z" fill="#cc4c02" stroke="#cc4c02" stroke-width="1.2" stroke-linejoin="round"/>
<path d="M396.0,176.0 403.0,175.0 409.0,174.0 408.0,179.0 400.0,181.0 396.0,179.0 396.0,176.0" class="bd"/>
<path d="M390.0,179.0 396.0,179.0 400.0,181.0 403.0,185.0 397.0,185.0 393.0,182.0Z" fill="#cc4c02" stroke="#cc4c02" stroke-width="1.2" stroke-linejoin="round"/>
<path d="M390.0,179.0 396.0,179.0 400.0,181.0 403.0,185.0 397.0,185.0 393.0,182.0 390.0,179.0" class="bd"/>
<path d="M393.0,182.0 397.0,185.0 403.0,185.0 405.0,190.0 402.0,188.0 396.0,185.0Z" fill="#fe9929" stroke="#fe9929" stroke-width="1.2" stroke-linejoin="round"/>
<path d="M393.0,182.0 397.0,185.0 403.0,185.0 405.0,190.0 402.0,188.0 396.0,185.0 393.0,182.0" class="bd"/>
<path d="M397.0,183.0 403.0,185.0 402.0,188.0Z" fill="#fec44f" stroke="#fec44f" stroke-width="1.2" stroke-linejoin="round"/>
<path d="M397.0,183.0 403.0,185.0 402.0,188.0 397.0,183.0" class="bd"/>
<path d="M403.0,177.0 408.0,179.0 410.0,184.0 412.0,188.0 408.0,190.0 404.0,188.0 403.0,185.0 401.0,181.0Z" fill="#ec7014" stroke="#ec7014" stroke-width="1.2" stroke-linejoin="round"/>
<path d="M403.0,177.0 408.0,179.0 410.0,184.0 412.0,188.0 408.0,190.0 404.0,188.0 403.0,185.0 401.0,181.0 403.0,177.0" class="bd"/>
<path d="M403.0,189.0 408.0,190.0 409.0,196.0 406.0,197.0 404.0,193.0Z" fill="#fec44f" stroke="#fec44f" stroke-width="1.2" stroke-linejoin="round"/>
<path d="M403.0,189.0 408.0,190.0 409.0,196.0 406.0,197.0 404.0,193.0 403.0,189.0" class="bd"/>
<path d="M408.0,190.0 412.0,189.0 413.0,192.0 409.0,193.0Z" fill="#ec7014" stroke="#ec7014" stroke-width="1.2" stroke-linejoin="round"/>
<path d="M408.0,190.0 412.0,189.0 413.0,192.0 409.0,193.0 408.0,190.0" class="bd"/>
<path d="M406.0,197.0 409.0,193.0 414.0,192.0 419.0,193.0 417.0,195.0 411.0,196.0 410.0,199.0 413.0,203.0 412.0,206.0 408.0,203.0 406.0,200.0Z" fill="#cc4c02" stroke="#cc4c02" stroke-width="1.2" stroke-linejoin="round"/>
<path d="M406.0,197.0 409.0,193.0 414.0,192.0 419.0,193.0 417.0,195.0 411.0,196.0 410.0,199.0 413.0,203.0 412.0,206.0 408.0,203.0 406.0,200.0 406.0,197.0" class="bd"/>
<path d="M408.0,173.0 418.0,171.0 423.0,175.0 425.0,182.0 418.0,184.0 410.0,184.0 408.0,179.0Z" fill="#ec7014" stroke="#ec7014" stroke-width="1.2" stroke-linejoin="round"/>
<path d="M408.0,173.0 418.0,171.0 423.0,175.0 425.0,182.0 418.0,184.0 410.0,184.0 408.0,179.0 408.0,173.0" class="bd"/>
<path d="M418.0,171.0 423.0,171.0 425.0,177.0 423.0,175.0Z" fill="#ec7014" stroke="#ec7014" stroke-width="1.2" stroke-linejoin="round"/>
<path d="M418.0,171.0 423.0,171.0 425.0,177.0 423.0,175.0 418.0,171.0" class="bd"/>
<path d="M410.0,184.0 418.0,184.0 423.0,185.0 422.0,190.0 418.0,192.0 412.0,189.0Z" fill="#ec7014" stroke="#ec7014" stroke-width="1.2" stroke-linejoin="round"/>
<path d="M410.0,184.0 418.0,184.0 423.0,185.0 422.0,190.0 418.0,192.0 412.0,189.0 410.0,184.0" class="bd"/>
<path d="M427.0,180.0 434.0,178.0 436.0,182.0 432.0,184.0 428.0,183.0Z" fill="#ec7014" stroke="#ec7014" stroke-width="1.2" stroke-linejoin="round"/>
<path d="M427.0,180.0 434.0,178.0 436.0,182.0 432.0,184.0 428.0,183.0 427.0,180.0" class="bd"/>
<path d="M422.0,188.0 424.0,182.0 428.0,180.0 432.0,184.0 436.0,184.0 440.0,182.0 444.0,183.0 448.0,186.0 450.0,190.0 449.0,193.0 440.0,194.0 430.0,194.0 423.0,193.0Z" fill="#fff"/>
<path d="M436.0,179.0 441.0,178.0 440.0,181.0 436.0,181.5Z" fill="#fff"/>
<path d="M450.0,190.0 460.0,190.0 460.0,194.0 452.0,194.0Z" fill="#fe9929" stroke="#fe9929" stroke-width="1.2" stroke-linejoin="round"/>
<path d="M450.0,190.0 460.0,190.0M460.0,194.0 452.0,194.0 450.0,190.0" class="bd"/>
<path d="M419.0,195.0 425.0,194.0 430.0,195.0 440.0,194.0 450.0,193.0 458.0,195.0 460.0,198.0 460.0,204.0 450.0,205.0 440.0,207.0 430.0,206.0 423.0,205.0 420.0,201.0Z" fill="#ec7014" stroke="#ec7014" stroke-width="1.2" stroke-linejoin="round"/>
<path d="M419.0,195.0 425.0,194.0 430.0,195.0 440.0,194.0 450.0,193.0 458.0,195.0 460.0,198.0M460.0,204.0 450.0,205.0 440.0,207.0 430.0,206.0 423.0,205.0 420.0,201.0 419.0,195.0" class="bd"/>
<path d="M414.0,208.0 420.0,209.0 418.0,210.0Z" fill="#ec7014" stroke="#ec7014" stroke-width="1.2" stroke-linejoin="round"/>
<path d="M414.0,208.0 420.0,209.0 418.0,210.0 414.0,208.0" class="bd"/>
<path d="M435.0,208.0 438.0,208.0 436.0,210.0Z" fill="#ec7014" stroke="#ec7014" stroke-width="1.2" stroke-linejoin="round"/>
<path d="M435.0,208.0 438.0,208.0 436.0,210.0 435.0,208.0" class="bd"/>
<path d="M442.0,205.0 452.0,205.0 460.0,204.0 460.0,213.0 450.0,213.0 444.0,214.0 442.0,210.0Z" fill="url(#hatch)"/>
<path d="M442.0,205.0 452.0,205.0 460.0,204.0M460.0,213.0 450.0,213.0 444.0,214.0 442.0,210.0 442.0,205.0" class="bdn"/>
<path d="M439.0,210.0 442.0,210.0 444.0,214.0 441.0,221.0 440.0,221.0Z" fill="#fe9929" stroke="#fe9929" stroke-width="1.2" stroke-linejoin="round"/>
<path d="M439.0,210.0 442.0,210.0 444.0,214.0 441.0,221.0 440.0,221.0 439.0,210.0" class="bd"/>
<path d="M385.0,217.0 418.0,217.0 418.0,225.0 385.0,225.0Z" fill="url(#hatch)"/>
<path d="M385.0,217.0 418.0,217.0 418.0,225.0M385.0,225.0 385.0,217.0" class="bdn"/>
<path d="M418.0,217.0 440.0,217.0 440.0,225.0 418.0,225.0Z" fill="#fee391" stroke="#fee391" stroke-width="1.2" stroke-linejoin="round"/>
<path d="M418.0,217.0 440.0,217.0 440.0,225.0M418.0,225.0 418.0,217.0" class="bd"/>
<path d="M380.0,205.0 386.0,204.0 387.0,213.0 383.0,217.0 380.0,217.0Z" fill="#ec7014" stroke="#ec7014" stroke-width="1.2" stroke-linejoin="round"/>
<path d="M380.0,205.0 386.0,204.0 387.0,213.0 383.0,217.0 380.0,217.0" class="bd"/>
<path d="M450.0,213.0 460.0,213.0 460.0,225.0 444.0,225.0 444.0,214.0Z" fill="#fe9929" stroke="#fe9929" stroke-width="1.2" stroke-linejoin="round"/>
<path d="M450.0,213.0 460.0,213.0M444.0,225.0 444.0,214.0 450.0,213.0" class="bd"/>
<path d="M430.0,195.0 457.8,195.0 458.5,198.8 454.8,203.2 452.5,204.8 441.2,205.5 437.5,206.2 430.0,205.5Z" fill="#ec7014" stroke="#ec7014" stroke-width="1.2" stroke-linejoin="round"/>
<path d="M457.8,195.0 458.5,198.8 454.8,203.2 452.5,204.8 441.2,205.5 437.5,206.2 430.0,205.5" class="bd"/>
<path d="M430.0,205.5 437.5,206.2 441.2,206.2 440.5,210.8 439.0,217.5 439.8,219.8 430.0,219.0Z" fill="#fff"/>
<path d="M433.0,209.2 437.5,208.1 436.8,210.0 433.8,210.4Z" fill="#ec7014" stroke="#ec7014" stroke-width="1.2" stroke-linejoin="round"/>
<path d="M433.0,209.2 437.5,208.1 436.8,210.0 433.8,210.4 433.0,209.2" class="bd"/>
<path d="M441.2,206.2 452.5,204.8 453.2,208.5 450.2,213.8 445.0,216.0 442.0,214.5 442.0,210.8Z" fill="url(#hatch)"/>
<path d="M441.2,206.2 452.5,204.8 453.2,208.5 450.2,213.8 445.0,216.0 442.0,214.5 442.0,210.8 441.2,206.2" class="bdn"/>
<path d="M440.5,210.8 442.0,210.8 442.0,214.5 439.8,219.8 439.0,217.5Z" fill="#ec7014" stroke="#ec7014" stroke-width="1.2" stroke-linejoin="round"/>
<path d="M440.5,210.8 442.0,210.8 442.0,214.5 439.8,219.8 439.0,217.5 440.5,210.8" class="bd"/>
<path d="M442.0,214.5 445.0,216.0 448.8,216.0 448.0,219.0 445.0,220.5 442.0,223.5 441.2,219.8Z" fill="#fe9929" stroke="#fe9929" stroke-width="1.2" stroke-linejoin="round"/>
<path d="M442.0,214.5 445.0,216.0 448.8,216.0 448.0,219.0 445.0,220.5 442.0,223.5 441.2,219.8 442.0,214.5" class="bd"/>
<path d="M452.5,204.8 458.5,203.2 460.0,206.2 463.0,210.0 465.2,213.8 469.0,220.5 466.8,224.2 463.0,225.0 458.5,222.8 452.5,219.8 448.0,218.2 448.8,216.0 450.2,213.8 453.2,208.5Z" fill="#fe9929" stroke="#fe9929" stroke-width="1.2" stroke-linejoin="round"/>
<path d="M452.5,204.8 458.5,203.2 460.0,206.2 463.0,210.0 465.2,213.8 469.0,220.5 466.8,224.2 463.0,225.0 458.5,222.8 452.5,219.8 448.0,218.2 448.8,216.0 450.2,213.8 453.2,208.5 452.5,204.8" class="bd"/>
<path d="M458.5,198.8 463.8,199.5 471.2,203.2 481.0,203.2 490.0,203.2 490.0,231.8 484.0,231.0 478.8,226.5 473.5,222.8 469.0,220.5 465.2,213.8 463.0,210.0 460.0,206.2 458.5,203.2 454.8,203.2Z" fill="#fec44f" stroke="#fec44f" stroke-width="1.2" stroke-linejoin="round"/>
<path d="M458.5,198.8 463.8,199.5 471.2,203.2 481.0,203.2 490.0,203.2M490.0,231.8 484.0,231.0 478.8,226.5 473.5,222.8 469.0,220.5 465.2,213.8 463.0,210.0 460.0,206.2 458.5,203.2 454.8,203.2 458.5,198.8" class="bd"/>
<path d="M458.5,195.0 467.5,195.0 469.0,198.0 464.5,199.5 460.0,198.8Z" fill="#fe9929" stroke="#fe9929" stroke-width="1.2" stroke-linejoin="round"/>
<path d="M467.5,195.0 469.0,198.0 464.5,199.5 460.0,198.8 458.5,195.0" class="bd"/>
<path d="M467.5,195.0 490.0,195.0 490.0,202.5 481.0,203.2 475.0,202.5 470.5,200.2 469.0,197.2Z" fill="#fff"/>
<path d="M439.8,226.5 445.0,219.8 452.5,219.0 458.5,222.8 463.0,225.0 466.8,224.2 469.8,225.0 473.5,231.0 478.0,234.8 481.0,240.0 442.8,240.0Z" fill="#7f2c05" stroke="#7f2c05" stroke-width="1.2" stroke-linejoin="round"/>
<path d="M439.8,226.5 445.0,219.8 452.5,219.0 458.5,222.8 463.0,225.0 466.8,224.2 469.8,225.0 473.5,231.0 478.0,234.8 481.0,240.0M442.8,240.0 439.8,226.5" class="bd"/>
<path d="M466.8,224.2 469.8,223.5 469.8,225.0Z" fill="#ec7014" stroke="#ec7014" stroke-width="1.2" stroke-linejoin="round"/>
<path d="M466.8,224.2 469.8,223.5 469.8,225.0 466.8,224.2" class="bd"/>
<path d="M469.8,223.5 473.5,222.8 478.8,226.5 484.0,231.0 490.0,231.8 490.0,237.0 484.0,238.5 481.0,240.0 478.0,234.8 473.5,231.0 469.8,225.0Z" fill="#fff"/>
<path d="M434.5,223.5 437.5,224.2 439.8,226.5 442.8,240.0 437.5,240.0Z" fill="#fff"/>
<path d="M430.0,219.0 439.8,219.0 439.8,226.5 437.5,224.2 434.5,223.5 437.5,240.0 430.0,240.0Z" fill="#fee391" stroke="#fee391" stroke-width="1.2" stroke-linejoin="round"/>
<path d="M430.0,219.0 439.8,219.0 439.8,226.5 437.5,224.2 434.5,223.5 437.5,240.0" class="bd"/>
<path d="M472.5,191.2 480.0,190.6 487.5,192.5 497.5,197.5 505.0,205.0 500.0,208.8 491.2,205.0 480.0,202.5 475.0,202.5 472.5,198.8Z" fill="url(#hatch)"/>
<path d="M472.5,191.2 480.0,190.6 487.5,192.5 497.5,197.5 505.0,205.0 500.0,208.8 491.2,205.0 480.0,202.5 475.0,202.5 472.5,198.8 472.5,191.2" class="bdn"/>
<path d="M614.4,389.8 617.9,381.0 617.0,370.5 619.6,359.1 627.5,355.6 638.0,352.1 642.4,346.0 652.0,338.1 659.0,338.1 666.0,331.1 671.2,332.9 676.5,332.9 673.0,340.8 681.8,346.9 687.0,335.5 689.6,329.4 692.2,335.5 694.0,344.2 695.8,351.2 701.0,356.5 705.4,365.2 705.4,375.8 701.0,382.8 695.8,388.0 688.8,393.2 683.5,398.5 676.5,402.0 669.5,402.0 666.0,398.5 662.5,393.2 659.9,392.4 659.0,386.2 653.8,384.5 645.0,384.5 636.2,387.1 627.5,389.8 620.5,392.4Z" fill="#662506" stroke="#662506" stroke-width="1.2" stroke-linejoin="round"/>
<path d="M614.4,389.8 617.9,381.0 617.0,370.5 619.6,359.1 627.5,355.6 638.0,352.1 642.4,346.0 652.0,338.1 659.0,338.1 666.0,331.1 671.2,332.9 676.5,332.9 673.0,340.8 681.8,346.9 687.0,335.5 689.6,329.4 692.2,335.5 694.0,344.2 695.8,351.2 701.0,356.5 705.4,365.2 705.4,375.8 701.0,382.8 695.8,388.0 688.8,393.2 683.5,398.5 676.5,402.0 669.5,402.0 666.0,398.5 662.5,393.2 659.9,392.4 659.0,386.2 653.8,384.5 645.0,384.5 636.2,387.1 627.5,389.8 620.5,392.4 614.4,389.8" class="bd"/>
<path d="M668.6,408.1 676.5,407.2 674.8,411.6 668.6,414.2Z" fill="#662506" stroke="#662506" stroke-width="1.2" stroke-linejoin="round"/>
<path d="M668.6,408.1 676.5,407.2 674.8,411.6 668.6,414.2 668.6,408.1" class="bd"/>
<path d="M705.4,420.4 715.0,414.2 725.5,409.0 730.8,407.2 732.5,409.9 722.0,416.0 709.8,422.1Z" fill="#7f2c05" stroke="#7f2c05" stroke-width="1.2" stroke-linejoin="round"/>
<path d="M705.4,420.4 715.0,414.2 725.5,409.0 730.8,407.2 732.5,409.9 722.0,416.0 709.8,422.1 705.4,420.4" class="bd"/>
<path d="M730.8,407.2 736.0,402.0 739.5,391.5 742.1,395.0 741.2,399.4 745.6,400.2 739.5,403.8 732.5,409.9Z" fill="#7f2c05" stroke="#7f2c05" stroke-width="1.2" stroke-linejoin="round"/>
<path d="M730.8,407.2 736.0,402.0 739.5,391.5 742.1,395.0 741.2,399.4 745.6,400.2 739.5,403.8 732.5,409.9 730.8,407.2" class="bd"/>
<path d="M524.1,200.0 600.0,200.0 600.0,241.1 590.7,242.5 585.0,236.8 582.2,228.3 576.5,225.5 569.4,229.7 560.9,228.3 546.7,222.7 541.1,222.7 536.8,218.4 534.0,212.7 529.7,208.5 524.8,204.2Z" fill="#993404" stroke="#993404" stroke-width="1.2" stroke-linejoin="round"/>
<path d="M600.0,241.1 590.7,242.5 585.0,236.8 582.2,228.3 576.5,225.5 569.4,229.7 560.9,228.3 546.7,222.7 541.1,222.7 536.8,218.4 534.0,212.7 529.7,208.5 524.8,204.2 524.1,200.0" class="bd"/>
<path d="M500.0,202.8 508.5,201.4 515.6,201.4 518.4,205.7 517.0,209.9 514.2,215.6 505.7,222.7 500.0,224.1Z" fill="#fff7bc" stroke="#fff7bc" stroke-width="1.2" stroke-linejoin="round"/>
<path d="M500.0,202.8 508.5,201.4 515.6,201.4 518.4,205.7 517.0,209.9 514.2,215.6 505.7,222.7 500.0,224.1" class="bd"/>
<path d="M518.4,205.7 524.8,204.2 526.9,208.5 532.6,214.2 525.5,218.4 526.9,222.7 519.8,228.3 518.4,232.6 522.7,236.8 518.4,238.2 511.3,234.0 501.4,234.0 500.0,228.3 505.7,222.7 514.2,215.6 517.0,209.9Z" fill="#fe9929" stroke="#fe9929" stroke-width="1.2" stroke-linejoin="round"/>
<path d="M518.4,205.7 524.8,204.2 526.9,208.5 532.6,214.2 525.5,218.4 526.9,222.7 519.8,228.3 518.4,232.6 522.7,236.8 518.4,238.2 511.3,234.0 501.4,234.0 500.0,228.3 505.7,222.7 514.2,215.6 517.0,209.9 518.4,205.7" class="bd"/>
<path d="M524.8,210.6 529.7,208.5 534.0,212.7 536.8,218.4 541.1,222.7 546.7,226.9 559.5,232.6 560.9,235.4 562.3,241.1 559.5,245.3 553.8,253.8 546.7,259.5 545.3,268.0 542.5,279.3 539.7,279.3 534.0,268.0 528.3,256.7 525.5,245.3 521.2,241.1 518.4,238.2 522.7,236.8 518.4,232.6 519.8,228.3 526.9,222.7 525.5,218.4 532.6,214.2Z" fill="#ec7014" stroke="#ec7014" stroke-width="1.2" stroke-linejoin="round"/>
<path d="M524.8,210.6 529.7,208.5 534.0,212.7 536.8,218.4 541.1,222.7 546.7,226.9 559.5,232.6 560.9,235.4 562.3,241.1 559.5,245.3 553.8,253.8 546.7,259.5 545.3,268.0 542.5,279.3 539.7,279.3 534.0,268.0 528.3,256.7 525.5,245.3 521.2,241.1 518.4,238.2 522.7,236.8 518.4,232.6 519.8,228.3 526.9,222.7 525.5,218.4 532.6,214.2 524.8,210.6" class="bd"/>
<path d="M560.9,232.6 569.4,229.7 576.5,225.5 579.3,228.3 573.7,235.4 570.8,242.5 568.0,241.1 565.2,242.5 562.3,241.1 560.9,235.4Z" fill="#ec7014" stroke="#ec7014" stroke-width="1.2" stroke-linejoin="round"/>
<path d="M560.9,232.6 569.4,229.7 576.5,225.5 579.3,228.3 573.7,235.4 570.8,242.5 568.0,241.1 565.2,242.5 562.3,241.1 560.9,235.4 560.9,232.6" class="bd"/>
<path d="M541.1,222.7 546.7,222.7 553.8,226.9 559.5,229.7 559.5,232.6 546.7,226.9Z" fill="#fee391" stroke="#fee391" stroke-width="1.2" stroke-linejoin="round"/>
<path d="M541.1,222.7 546.7,222.7 553.8,226.9 559.5,229.7 559.5,232.6 546.7,226.9 541.1,222.7" class="bd"/>
<path d="M562.3,229.0 568.0,228.3 568.0,230.5 562.3,231.2Z" fill="#fff"/>
<path d="M573.7,235.4 579.3,228.3 582.2,228.3 585.0,236.8 587.8,242.5 590.7,246.7 586.4,252.4 587.8,259.5 585.0,259.5 579.3,256.7 576.5,251.0 573.7,243.9 570.8,242.5Z" fill="#fec44f" stroke="#fec44f" stroke-width="1.2" stroke-linejoin="round"/>
<path d="M573.7,235.4 579.3,228.3 582.2,228.3 585.0,236.8 587.8,242.5 590.7,246.7 586.4,252.4 587.8,259.5 585.0,259.5 579.3,256.7 576.5,251.0 573.7,243.9 570.8,242.5 573.7,235.4" class="bd"/>
<path d="M590.7,246.7 596.3,242.5 600.0,242.5 600.0,253.8 596.3,251.0 592.1,248.2Z" fill="url(#hatch)"/>
<path d="M590.7,246.7 596.3,242.5 600.0,242.5M600.0,253.8 596.3,251.0 592.1,248.2 590.7,246.7" class="bdn"/>
<path d="M585.0,251.0 592.1,248.2 596.3,251.0 600.0,253.8 600.0,262.3 597.7,265.2 592.1,260.9 590.7,265.2 590.7,273.7 593.5,279.3 596.3,285.0 590.7,285.0 587.8,276.5 586.4,262.3 585.0,259.5 586.4,252.4Z" fill="#fe9929" stroke="#fe9929" stroke-width="1.2" stroke-linejoin="round"/>
<path d="M585.0,251.0 592.1,248.2 596.3,251.0 600.0,253.8M600.0,262.3 597.7,265.2 592.1,260.9 590.7,265.2 590.7,273.7 593.5,279.3 596.3,285.0M590.7,285.0 587.8,276.5 586.4,262.3 585.0,259.5 586.4,252.4 585.0,251.0" class="bd"/>
<path d="M546.7,275.8 548.9,275.1 550.3,279.3 549.6,283.6 547.5,283.6 546.0,279.3Z" fill="#fee391" stroke="#fee391" stroke-width="1.2" stroke-linejoin="round"/>
<path d="M546.7,275.8 548.9,275.1 550.3,279.3 549.6,283.6 547.5,283.6 546.0,279.3 546.7,275.8" class="bd"/>
<path d="M500.0,224.1 505.7,222.7 500.0,228.3Z" fill="#fec44f" stroke="#fec44f" stroke-width="1.2" stroke-linejoin="round"/>
<path d="M500.0,224.1 505.7,222.7 500.0,228.3" class="bd"/>
<path d="M657.6,142.1 661.2,140.9 665.9,146.8 672.9,146.8 676.5,144.4 675.3,150.3 672.9,155.0 675.3,162.1 674.7,167.9 670.6,162.1 665.9,157.4 660.0,152.6 658.2,149.1Z" fill="#ec7014" stroke="#ec7014" stroke-width="1.2" stroke-linejoin="round"/>
<path d="M657.6,142.1 661.2,140.9 665.9,146.8 672.9,146.8 676.5,144.4 675.3,150.3 672.9,155.0 675.3,162.1 674.7,167.9 670.6,162.1 665.9,157.4 660.0,152.6 658.2,149.1 657.6,142.1" class="bd"/>
<path d="M457.5,171.8 462.8,166.5 471.5,167.4 481.1,165.6 482.0,160.4 496.0,157.8 508.2,161.2 511.8,160.4 520.5,164.8 529.2,166.5 534.5,170.0 538.0,171.8 531.0,178.8 532.8,189.2 524.0,189.2 513.5,189.2 506.5,191.0 497.8,187.5 489.0,185.8 482.0,182.2 478.5,185.8 469.8,184.0 461.0,182.2 457.5,177.0 457.5,171.8" class="bd"/>
<path d="M478.5,185.8 482.0,182.2 489.0,185.8 497.8,187.5 506.5,191.0 513.5,189.2 513.5,198.0 506.5,199.8 499.5,203.2 492.5,194.5 483.8,189.2 478.5,185.8" class="bd"/>
<path d="M254.1,106.1 262.6,103.3 276.7,99.1 299.3,98.4 319.1,97.6 333.2,98.4 345.2,100.5 336.0,102.6 333.2,107.5 331.8,114.6 324.7,121.6 316.2,127.3 306.4,130.1 293.6,134.4 285.2,140.0 280.9,145.6 275.3,144.2 271.1,137.2 270.4,128.7 273.9,120.2 272.5,113.2 268.2,110.4 258.4,108.9Z" fill="url(#hatch)"/>
<path d="M254.1,106.1 262.6,103.3 276.7,99.1 299.3,98.4 319.1,97.6 333.2,98.4 345.2,100.5 336.0,102.6 333.2,107.5 331.8,114.6 324.7,121.6 316.2,127.3 306.4,130.1 293.6,134.4 285.2,140.0 280.9,145.6 275.3,144.2 271.1,137.2 270.4,128.7 273.9,120.2 272.5,113.2 268.2,110.4 258.4,108.9 254.1,106.1" class="bdn"/>
<path d="M240.0,99.1 254.1,98.4 278.1,98.8 268.2,100.5 254.1,103.3 245.6,107.5 240.0,110.4Z" fill="#7f2c05" stroke="#7f2c05" stroke-width="1.2" stroke-linejoin="round"/>
<path d="M240.0,99.1 254.1,98.4 278.1,98.8 268.2,100.5 254.1,103.3 245.6,107.5 240.0,110.4" class="bd"/>
<path d="M321.2,132.9 324.7,131.5 331.8,132.2 337.4,131.5 338.8,134.4 334.6,137.2 327.5,137.9 323.3,135.8Z" fill="#ffffe5" stroke="#ffffe5" stroke-width="1.2" stroke-linejoin="round"/>
<path d="M321.2,132.9 324.7,131.5 331.8,132.2 337.4,131.5 338.8,134.4 334.6,137.2 327.5,137.9 323.3,135.8 321.2,132.9" class="bd"/>
<path d="M160.0,173.1 171.2,173.1 172.5,174.4 185.0,176.2 190.0,180.0 192.5,185.0 188.8,191.9 197.5,187.5 205.0,183.8 212.5,182.5 218.8,178.1 223.8,177.5 224.4,182.5 221.2,183.8 216.2,187.5 215.0,191.2 210.0,193.8 205.0,196.2 201.2,200.0 198.8,205.0 197.5,208.8 193.8,215.0 160.0,215.0Z" fill="#662506" stroke="#662506" stroke-width="1.2" stroke-linejoin="round"/>
<path d="M160.0,173.1 171.2,173.1 172.5,174.4 185.0,176.2 190.0,180.0 192.5,185.0 188.8,191.9 197.5,187.5 205.0,183.8 212.5,182.5 218.8,178.1 223.8,177.5 224.4,182.5 221.2,183.8 216.2,187.5 215.0,191.2 210.0,193.8 205.0,196.2 201.2,200.0 198.8,205.0 197.5,208.8 193.8,215.0" class="bd"/>
<path d="M160.0,140.0 188.8,140.0 220.0,140.0 235.0,140.0 235.0,145.0 240.0,148.8 245.0,146.2 246.2,156.2 252.5,162.5 253.8,165.0 247.5,168.8 240.0,171.2 230.0,172.5 221.2,177.5 218.8,178.1 212.5,182.5 205.0,183.8 197.5,187.5 188.8,191.9 192.5,185.0 190.0,180.0 185.0,176.2 172.5,174.4 171.2,173.1 160.0,173.1Z" fill="#7f2c05" stroke="#7f2c05" stroke-width="1.2" stroke-linejoin="round"/>
<path d="M235.0,140.0 235.0,145.0 240.0,148.8 245.0,146.2 246.2,156.2 252.5,162.5 253.8,165.0 247.5,168.8 240.0,171.2 230.0,172.5 221.2,177.5 218.8,178.1 212.5,182.5 205.0,183.8 197.5,187.5 188.8,191.9 192.5,185.0 190.0,180.0 185.0,176.2 172.5,174.4 171.2,173.1 160.0,173.1" class="bd"/>
<path d="M242.5,176.2 247.5,168.8 252.5,167.5 255.0,172.5 256.2,177.5 253.8,180.0 247.5,177.5Z" fill="#7f2c05" stroke="#7f2c05" stroke-width="1.2" stroke-linejoin="round"/>
<path d="M242.5,176.2 247.5,168.8 252.5,167.5 255.0,172.5 256.2,177.5 253.8,180.0 247.5,177.5 242.5,176.2" class="bd"/>
<path d="M225.0,187.5 230.0,183.8 235.0,181.2 238.8,180.0 240.0,181.2 231.2,186.2Z" fill="#7f2c05" stroke="#7f2c05" stroke-width="1.2" stroke-linejoin="round"/>
<path d="M225.0,187.5 230.0,183.8 235.0,181.2 238.8,180.0 240.0,181.2 231.2,186.2 225.0,187.5" class="bd"/>
<path d="M223.8,177.5 230.0,175.0 235.0,177.5 232.5,180.0 226.2,181.2Z" fill="#7f2c05" stroke="#7f2c05" stroke-width="1.2" stroke-linejoin="round"/>
<path d="M223.8,177.5 230.0,175.0 235.0,177.5 232.5,180.0 226.2,181.2 223.8,177.5" class="bd"/>
<path d="M187.6,152.8 190.2,147.5 195.5,142.2 202.5,138.5 211.2,137.5 218.2,140.0 220.5,145.0 217.5,153.8 217.5,157.5 213.8,157.5 207.5,159.0 207.5,165.0 205.0,167.5 202.5,165.0 203.8,158.8 197.5,156.9 191.2,153.8Z" fill="#fff"/></g>
<g font-family="Liberation Sans, sans-serif" font-size="13" fill="#5b5b5b" letter-spacing="0.3">
<text x="75" y="474" text-anchor="middle">No data</text>
<text x="119.0" y="474" text-anchor="middle">$0</text><text x="186.9" y="474" text-anchor="middle">$1,000</text><text x="254.9" y="474" text-anchor="middle">$2,000</text><text x="322.9" y="474" text-anchor="middle">$5,000</text><text x="390.8" y="474" text-anchor="middle">$10,000</text><text x="458.8" y="474" text-anchor="middle">$20,000</text><text x="526.7" y="474" text-anchor="middle">$50,000</text><text x="594.7" y="474" text-anchor="middle">$100,000</text><text x="662.6" y="474" text-anchor="middle">$200,000</text><text x="730.6" y="474" text-anchor="middle">$500,000</text>
</g>
<rect x="51.5" y="481.5" width="48" height="11" fill="url(#hatch)" stroke="#bbb" stroke-width="0.8"/>
<line x1="75" y1="478" x2="75" y2="481" stroke="#bbb" stroke-width="0.8"/>
<rect x="119.0" y="481" width="68.0" height="11" fill="#ffffe5"/><rect x="186.9" y="481" width="68.0" height="11" fill="#fff7bc"/><rect x="254.9" y="481" width="68.0" height="11" fill="#fee391"/><rect x="322.9" y="481" width="68.0" height="11" fill="#fec44f"/><rect x="390.8" y="481" width="68.0" height="11" fill="#fe9929"/><rect x="458.8" y="481" width="68.0" height="11" fill="#ec7014"/><rect x="526.7" y="481" width="68.0" height="11" fill="#cc4c02"/><rect x="594.7" y="481" width="68.0" height="11" fill="#993404"/><rect x="662.6" y="481" width="68.0" height="11" fill="#7f2c05"/><path d="M730.6 481 H792 L798 486.5 L792 492 H730.6 Z" fill="#662506"/>
<line x1="186.9" y1="478" x2="186.9" y2="492" stroke="#999" stroke-width="0.8" stroke-opacity="0.6"/><line x1="254.9" y1="478" x2="254.9" y2="492" stroke="#999" stroke-width="0.8" stroke-opacity="0.6"/><line x1="322.9" y1="478" x2="322.9" y2="492" stroke="#999" stroke-width="0.8" stroke-opacity="0.6"/><line x1="390.8" y1="478" x2="390.8" y2="492" stroke="#999" stroke-width="0.8" stroke-opacity="0.6"/><line x1="458.8" y1="478" x2="458.8" y2="492" stroke="#999" stroke-width="0.8" stroke-opacity="0.6"/><line x1="526.7" y1="478" x2="526.7" y2="492" stroke="#999" stroke-width="0.8" stroke-opacity="0.6"/><line x1="594.7" y1="478" x2="594.7" y2="492" stroke="#999" stroke-width="0.8" stroke-opacity="0.6"/><line x1="662.6" y1="478" x2="662.6" y2="492" stroke="#999" stroke-width="0.8" stroke-opacity="0.6"/><line x1="730.6" y1="478" x2="730.6" y2="492" stroke="#999" stroke-width="0.8" stroke-opacity="0.6"/>
<path d="M119 481 H792 L798 486.5 L792 492 H119 Z" fill="none" stroke="#999" stroke-opacity="0.5" stroke-width="0.6"/>
</svg>
<div class="t" id="foot"><b>Data source:</b> Stockholm International Peace Research Institute (2025); The Military Balance - International Institute for Strategic Studies, via<br>World Bank (2026)<div style="height:5.2px"></div><b>Note:</b> This data is expressed in constant 2023 US$.<div style="height:5.2px"></div>OurWorldinData.org/military-personnel-spending | CC BY</div>
</body></html>
